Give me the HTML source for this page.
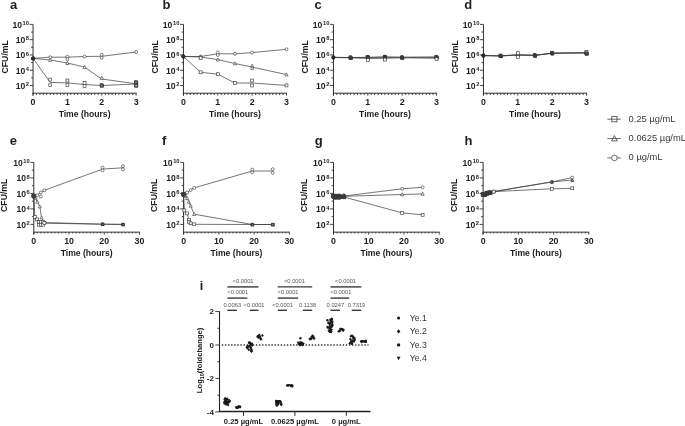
<!DOCTYPE html>
<html><head><meta charset="utf-8"><style>
html,body{margin:0;padding:0;background:#fff;}
svg{display:block;font-family:"Liberation Sans", sans-serif;filter:grayscale(1) blur(0.35px);}
</style></head><body>
<svg width="685" height="426" viewBox="0 0 685 426">
<rect width="685" height="426" fill="#fff"/>
<line x1="33.05" y1="24.40" x2="33.05" y2="95.50" stroke="#303030" stroke-width="1.0" />
<line x1="29.65" y1="85.52" x2="33.05" y2="85.52" stroke="#303030" stroke-width="0.9" />
<line x1="31.15" y1="77.88" x2="33.05" y2="77.88" stroke="#303030" stroke-width="0.9" />
<line x1="29.65" y1="70.24" x2="33.05" y2="70.24" stroke="#303030" stroke-width="0.9" />
<line x1="31.15" y1="62.60" x2="33.05" y2="62.60" stroke="#303030" stroke-width="0.9" />
<line x1="29.65" y1="54.96" x2="33.05" y2="54.96" stroke="#303030" stroke-width="0.9" />
<line x1="31.15" y1="47.32" x2="33.05" y2="47.32" stroke="#303030" stroke-width="0.9" />
<line x1="29.65" y1="39.68" x2="33.05" y2="39.68" stroke="#303030" stroke-width="0.9" />
<line x1="31.15" y1="32.04" x2="33.05" y2="32.04" stroke="#303030" stroke-width="0.9" />
<line x1="29.65" y1="24.40" x2="33.05" y2="24.40" stroke="#303030" stroke-width="0.9" />
<text x="29.05" y="27.70" font-size="8.6" font-weight="bold" text-anchor="end" fill="#1e1e1e">10<tspan font-size="5.8" dx="0.6" dy="-2.7">10</tspan></text>
<text x="29.05" y="42.98" font-size="8.6" font-weight="bold" text-anchor="end" fill="#1e1e1e">10<tspan font-size="5.8" dx="0.6" dy="-2.7">8</tspan></text>
<text x="29.05" y="58.26" font-size="8.6" font-weight="bold" text-anchor="end" fill="#1e1e1e">10<tspan font-size="5.8" dx="0.6" dy="-2.7">6</tspan></text>
<text x="29.05" y="73.54" font-size="8.6" font-weight="bold" text-anchor="end" fill="#1e1e1e">10<tspan font-size="5.8" dx="0.6" dy="-2.7">4</tspan></text>
<text x="29.05" y="88.82" font-size="8.6" font-weight="bold" text-anchor="end" fill="#1e1e1e">10<tspan font-size="5.8" dx="0.6" dy="-2.7">2</tspan></text>
<line x1="32.55" y1="93.20" x2="136.60" y2="93.20" stroke="#303030" stroke-width="1.0" />
<line x1="33.05" y1="93.20" x2="33.05" y2="95.60" stroke="#303030" stroke-width="0.9" />
<text x="33.05" y="104.90" font-size="8.8" font-weight="bold" text-anchor="middle" fill="#1e1e1e" >0</text>
<line x1="36.48" y1="93.20" x2="36.48" y2="95.00" stroke="#303030" stroke-width="0.9" />
<line x1="39.92" y1="93.20" x2="39.92" y2="95.00" stroke="#303030" stroke-width="0.9" />
<line x1="43.35" y1="93.20" x2="43.35" y2="95.00" stroke="#303030" stroke-width="0.9" />
<line x1="46.79" y1="93.20" x2="46.79" y2="95.00" stroke="#303030" stroke-width="0.9" />
<line x1="50.22" y1="93.20" x2="50.22" y2="95.00" stroke="#303030" stroke-width="0.9" />
<line x1="53.66" y1="93.20" x2="53.66" y2="95.00" stroke="#303030" stroke-width="0.9" />
<line x1="57.09" y1="93.20" x2="57.09" y2="95.00" stroke="#303030" stroke-width="0.9" />
<line x1="60.53" y1="93.20" x2="60.53" y2="95.00" stroke="#303030" stroke-width="0.9" />
<line x1="63.97" y1="93.20" x2="63.97" y2="95.00" stroke="#303030" stroke-width="0.9" />
<line x1="67.40" y1="93.20" x2="67.40" y2="95.60" stroke="#303030" stroke-width="0.9" />
<text x="67.40" y="104.90" font-size="8.8" font-weight="bold" text-anchor="middle" fill="#1e1e1e" >1</text>
<line x1="70.84" y1="93.20" x2="70.84" y2="95.00" stroke="#303030" stroke-width="0.9" />
<line x1="74.27" y1="93.20" x2="74.27" y2="95.00" stroke="#303030" stroke-width="0.9" />
<line x1="77.70" y1="93.20" x2="77.70" y2="95.00" stroke="#303030" stroke-width="0.9" />
<line x1="81.14" y1="93.20" x2="81.14" y2="95.00" stroke="#303030" stroke-width="0.9" />
<line x1="84.58" y1="93.20" x2="84.58" y2="95.00" stroke="#303030" stroke-width="0.9" />
<line x1="88.01" y1="93.20" x2="88.01" y2="95.00" stroke="#303030" stroke-width="0.9" />
<line x1="91.45" y1="93.20" x2="91.45" y2="95.00" stroke="#303030" stroke-width="0.9" />
<line x1="94.88" y1="93.20" x2="94.88" y2="95.00" stroke="#303030" stroke-width="0.9" />
<line x1="98.31" y1="93.20" x2="98.31" y2="95.00" stroke="#303030" stroke-width="0.9" />
<line x1="101.75" y1="93.20" x2="101.75" y2="95.60" stroke="#303030" stroke-width="0.9" />
<text x="101.75" y="104.90" font-size="8.8" font-weight="bold" text-anchor="middle" fill="#1e1e1e" >2</text>
<line x1="105.19" y1="93.20" x2="105.19" y2="95.00" stroke="#303030" stroke-width="0.9" />
<line x1="108.62" y1="93.20" x2="108.62" y2="95.00" stroke="#303030" stroke-width="0.9" />
<line x1="112.06" y1="93.20" x2="112.06" y2="95.00" stroke="#303030" stroke-width="0.9" />
<line x1="115.49" y1="93.20" x2="115.49" y2="95.00" stroke="#303030" stroke-width="0.9" />
<line x1="118.92" y1="93.20" x2="118.92" y2="95.00" stroke="#303030" stroke-width="0.9" />
<line x1="122.36" y1="93.20" x2="122.36" y2="95.00" stroke="#303030" stroke-width="0.9" />
<line x1="125.80" y1="93.20" x2="125.80" y2="95.00" stroke="#303030" stroke-width="0.9" />
<line x1="129.23" y1="93.20" x2="129.23" y2="95.00" stroke="#303030" stroke-width="0.9" />
<line x1="132.67" y1="93.20" x2="132.67" y2="95.00" stroke="#303030" stroke-width="0.9" />
<line x1="136.10" y1="93.20" x2="136.10" y2="95.60" stroke="#303030" stroke-width="0.9" />
<text x="136.10" y="104.90" font-size="8.8" font-weight="bold" text-anchor="middle" fill="#1e1e1e" >3</text>
<text x="84.58" y="117.10" font-size="8.6" font-weight="bold" text-anchor="middle" fill="#1e1e1e" >Time (hours)</text>
<text x="0" y="0" font-size="8.7" font-weight="bold" text-anchor="middle" fill="#1e1e1e" transform="translate(7.50,56.80) rotate(-90)">CFU/mL</text>
<text x="10.00" y="9.40" font-size="13" font-weight="bold" text-anchor="start" fill="#1e1e1e" >a</text>
<line x1="183.45" y1="24.40" x2="183.45" y2="95.50" stroke="#303030" stroke-width="1.0" />
<line x1="180.05" y1="85.52" x2="183.45" y2="85.52" stroke="#303030" stroke-width="0.9" />
<line x1="181.55" y1="77.88" x2="183.45" y2="77.88" stroke="#303030" stroke-width="0.9" />
<line x1="180.05" y1="70.24" x2="183.45" y2="70.24" stroke="#303030" stroke-width="0.9" />
<line x1="181.55" y1="62.60" x2="183.45" y2="62.60" stroke="#303030" stroke-width="0.9" />
<line x1="180.05" y1="54.96" x2="183.45" y2="54.96" stroke="#303030" stroke-width="0.9" />
<line x1="181.55" y1="47.32" x2="183.45" y2="47.32" stroke="#303030" stroke-width="0.9" />
<line x1="180.05" y1="39.68" x2="183.45" y2="39.68" stroke="#303030" stroke-width="0.9" />
<line x1="181.55" y1="32.04" x2="183.45" y2="32.04" stroke="#303030" stroke-width="0.9" />
<line x1="180.05" y1="24.40" x2="183.45" y2="24.40" stroke="#303030" stroke-width="0.9" />
<text x="179.45" y="27.70" font-size="8.6" font-weight="bold" text-anchor="end" fill="#1e1e1e">10<tspan font-size="5.8" dx="0.6" dy="-2.7">10</tspan></text>
<text x="179.45" y="42.98" font-size="8.6" font-weight="bold" text-anchor="end" fill="#1e1e1e">10<tspan font-size="5.8" dx="0.6" dy="-2.7">8</tspan></text>
<text x="179.45" y="58.26" font-size="8.6" font-weight="bold" text-anchor="end" fill="#1e1e1e">10<tspan font-size="5.8" dx="0.6" dy="-2.7">6</tspan></text>
<text x="179.45" y="73.54" font-size="8.6" font-weight="bold" text-anchor="end" fill="#1e1e1e">10<tspan font-size="5.8" dx="0.6" dy="-2.7">4</tspan></text>
<text x="179.45" y="88.82" font-size="8.6" font-weight="bold" text-anchor="end" fill="#1e1e1e">10<tspan font-size="5.8" dx="0.6" dy="-2.7">2</tspan></text>
<line x1="182.95" y1="93.20" x2="287.00" y2="93.20" stroke="#303030" stroke-width="1.0" />
<line x1="183.45" y1="93.20" x2="183.45" y2="95.60" stroke="#303030" stroke-width="0.9" />
<text x="183.45" y="104.90" font-size="8.8" font-weight="bold" text-anchor="middle" fill="#1e1e1e" >0</text>
<line x1="186.88" y1="93.20" x2="186.88" y2="95.00" stroke="#303030" stroke-width="0.9" />
<line x1="190.32" y1="93.20" x2="190.32" y2="95.00" stroke="#303030" stroke-width="0.9" />
<line x1="193.75" y1="93.20" x2="193.75" y2="95.00" stroke="#303030" stroke-width="0.9" />
<line x1="197.19" y1="93.20" x2="197.19" y2="95.00" stroke="#303030" stroke-width="0.9" />
<line x1="200.62" y1="93.20" x2="200.62" y2="95.00" stroke="#303030" stroke-width="0.9" />
<line x1="204.06" y1="93.20" x2="204.06" y2="95.00" stroke="#303030" stroke-width="0.9" />
<line x1="207.50" y1="93.20" x2="207.50" y2="95.00" stroke="#303030" stroke-width="0.9" />
<line x1="210.93" y1="93.20" x2="210.93" y2="95.00" stroke="#303030" stroke-width="0.9" />
<line x1="214.36" y1="93.20" x2="214.36" y2="95.00" stroke="#303030" stroke-width="0.9" />
<line x1="217.80" y1="93.20" x2="217.80" y2="95.60" stroke="#303030" stroke-width="0.9" />
<text x="217.80" y="104.90" font-size="8.8" font-weight="bold" text-anchor="middle" fill="#1e1e1e" >1</text>
<line x1="221.23" y1="93.20" x2="221.23" y2="95.00" stroke="#303030" stroke-width="0.9" />
<line x1="224.67" y1="93.20" x2="224.67" y2="95.00" stroke="#303030" stroke-width="0.9" />
<line x1="228.10" y1="93.20" x2="228.10" y2="95.00" stroke="#303030" stroke-width="0.9" />
<line x1="231.54" y1="93.20" x2="231.54" y2="95.00" stroke="#303030" stroke-width="0.9" />
<line x1="234.97" y1="93.20" x2="234.97" y2="95.00" stroke="#303030" stroke-width="0.9" />
<line x1="238.41" y1="93.20" x2="238.41" y2="95.00" stroke="#303030" stroke-width="0.9" />
<line x1="241.84" y1="93.20" x2="241.84" y2="95.00" stroke="#303030" stroke-width="0.9" />
<line x1="245.28" y1="93.20" x2="245.28" y2="95.00" stroke="#303030" stroke-width="0.9" />
<line x1="248.71" y1="93.20" x2="248.71" y2="95.00" stroke="#303030" stroke-width="0.9" />
<line x1="252.15" y1="93.20" x2="252.15" y2="95.60" stroke="#303030" stroke-width="0.9" />
<text x="252.15" y="104.90" font-size="8.8" font-weight="bold" text-anchor="middle" fill="#1e1e1e" >2</text>
<line x1="255.58" y1="93.20" x2="255.58" y2="95.00" stroke="#303030" stroke-width="0.9" />
<line x1="259.02" y1="93.20" x2="259.02" y2="95.00" stroke="#303030" stroke-width="0.9" />
<line x1="262.45" y1="93.20" x2="262.45" y2="95.00" stroke="#303030" stroke-width="0.9" />
<line x1="265.89" y1="93.20" x2="265.89" y2="95.00" stroke="#303030" stroke-width="0.9" />
<line x1="269.32" y1="93.20" x2="269.32" y2="95.00" stroke="#303030" stroke-width="0.9" />
<line x1="272.76" y1="93.20" x2="272.76" y2="95.00" stroke="#303030" stroke-width="0.9" />
<line x1="276.19" y1="93.20" x2="276.19" y2="95.00" stroke="#303030" stroke-width="0.9" />
<line x1="279.63" y1="93.20" x2="279.63" y2="95.00" stroke="#303030" stroke-width="0.9" />
<line x1="283.06" y1="93.20" x2="283.06" y2="95.00" stroke="#303030" stroke-width="0.9" />
<line x1="286.50" y1="93.20" x2="286.50" y2="95.60" stroke="#303030" stroke-width="0.9" />
<text x="286.50" y="104.90" font-size="8.8" font-weight="bold" text-anchor="middle" fill="#1e1e1e" >3</text>
<text x="234.97" y="117.10" font-size="8.6" font-weight="bold" text-anchor="middle" fill="#1e1e1e" >Time (hours)</text>
<text x="0" y="0" font-size="8.7" font-weight="bold" text-anchor="middle" fill="#1e1e1e" transform="translate(157.50,56.80) rotate(-90)">CFU/mL</text>
<text x="162.40" y="9.40" font-size="13" font-weight="bold" text-anchor="start" fill="#1e1e1e" >b</text>
<line x1="333.45" y1="24.40" x2="333.45" y2="95.50" stroke="#303030" stroke-width="1.0" />
<line x1="330.05" y1="85.52" x2="333.45" y2="85.52" stroke="#303030" stroke-width="0.9" />
<line x1="331.55" y1="77.88" x2="333.45" y2="77.88" stroke="#303030" stroke-width="0.9" />
<line x1="330.05" y1="70.24" x2="333.45" y2="70.24" stroke="#303030" stroke-width="0.9" />
<line x1="331.55" y1="62.60" x2="333.45" y2="62.60" stroke="#303030" stroke-width="0.9" />
<line x1="330.05" y1="54.96" x2="333.45" y2="54.96" stroke="#303030" stroke-width="0.9" />
<line x1="331.55" y1="47.32" x2="333.45" y2="47.32" stroke="#303030" stroke-width="0.9" />
<line x1="330.05" y1="39.68" x2="333.45" y2="39.68" stroke="#303030" stroke-width="0.9" />
<line x1="331.55" y1="32.04" x2="333.45" y2="32.04" stroke="#303030" stroke-width="0.9" />
<line x1="330.05" y1="24.40" x2="333.45" y2="24.40" stroke="#303030" stroke-width="0.9" />
<text x="329.45" y="27.70" font-size="8.6" font-weight="bold" text-anchor="end" fill="#1e1e1e">10<tspan font-size="5.8" dx="0.6" dy="-2.7">10</tspan></text>
<text x="329.45" y="42.98" font-size="8.6" font-weight="bold" text-anchor="end" fill="#1e1e1e">10<tspan font-size="5.8" dx="0.6" dy="-2.7">8</tspan></text>
<text x="329.45" y="58.26" font-size="8.6" font-weight="bold" text-anchor="end" fill="#1e1e1e">10<tspan font-size="5.8" dx="0.6" dy="-2.7">6</tspan></text>
<text x="329.45" y="73.54" font-size="8.6" font-weight="bold" text-anchor="end" fill="#1e1e1e">10<tspan font-size="5.8" dx="0.6" dy="-2.7">4</tspan></text>
<text x="329.45" y="88.82" font-size="8.6" font-weight="bold" text-anchor="end" fill="#1e1e1e">10<tspan font-size="5.8" dx="0.6" dy="-2.7">2</tspan></text>
<line x1="332.95" y1="93.20" x2="437.00" y2="93.20" stroke="#303030" stroke-width="1.0" />
<line x1="333.45" y1="93.20" x2="333.45" y2="95.60" stroke="#303030" stroke-width="0.9" />
<text x="333.45" y="104.90" font-size="8.8" font-weight="bold" text-anchor="middle" fill="#1e1e1e" >0</text>
<line x1="336.88" y1="93.20" x2="336.88" y2="95.00" stroke="#303030" stroke-width="0.9" />
<line x1="340.32" y1="93.20" x2="340.32" y2="95.00" stroke="#303030" stroke-width="0.9" />
<line x1="343.75" y1="93.20" x2="343.75" y2="95.00" stroke="#303030" stroke-width="0.9" />
<line x1="347.19" y1="93.20" x2="347.19" y2="95.00" stroke="#303030" stroke-width="0.9" />
<line x1="350.62" y1="93.20" x2="350.62" y2="95.00" stroke="#303030" stroke-width="0.9" />
<line x1="354.06" y1="93.20" x2="354.06" y2="95.00" stroke="#303030" stroke-width="0.9" />
<line x1="357.50" y1="93.20" x2="357.50" y2="95.00" stroke="#303030" stroke-width="0.9" />
<line x1="360.93" y1="93.20" x2="360.93" y2="95.00" stroke="#303030" stroke-width="0.9" />
<line x1="364.37" y1="93.20" x2="364.37" y2="95.00" stroke="#303030" stroke-width="0.9" />
<line x1="367.80" y1="93.20" x2="367.80" y2="95.60" stroke="#303030" stroke-width="0.9" />
<text x="367.80" y="104.90" font-size="8.8" font-weight="bold" text-anchor="middle" fill="#1e1e1e" >1</text>
<line x1="371.24" y1="93.20" x2="371.24" y2="95.00" stroke="#303030" stroke-width="0.9" />
<line x1="374.67" y1="93.20" x2="374.67" y2="95.00" stroke="#303030" stroke-width="0.9" />
<line x1="378.11" y1="93.20" x2="378.11" y2="95.00" stroke="#303030" stroke-width="0.9" />
<line x1="381.54" y1="93.20" x2="381.54" y2="95.00" stroke="#303030" stroke-width="0.9" />
<line x1="384.98" y1="93.20" x2="384.98" y2="95.00" stroke="#303030" stroke-width="0.9" />
<line x1="388.41" y1="93.20" x2="388.41" y2="95.00" stroke="#303030" stroke-width="0.9" />
<line x1="391.85" y1="93.20" x2="391.85" y2="95.00" stroke="#303030" stroke-width="0.9" />
<line x1="395.28" y1="93.20" x2="395.28" y2="95.00" stroke="#303030" stroke-width="0.9" />
<line x1="398.71" y1="93.20" x2="398.71" y2="95.00" stroke="#303030" stroke-width="0.9" />
<line x1="402.15" y1="93.20" x2="402.15" y2="95.60" stroke="#303030" stroke-width="0.9" />
<text x="402.15" y="104.90" font-size="8.8" font-weight="bold" text-anchor="middle" fill="#1e1e1e" >2</text>
<line x1="405.58" y1="93.20" x2="405.58" y2="95.00" stroke="#303030" stroke-width="0.9" />
<line x1="409.02" y1="93.20" x2="409.02" y2="95.00" stroke="#303030" stroke-width="0.9" />
<line x1="412.45" y1="93.20" x2="412.45" y2="95.00" stroke="#303030" stroke-width="0.9" />
<line x1="415.89" y1="93.20" x2="415.89" y2="95.00" stroke="#303030" stroke-width="0.9" />
<line x1="419.32" y1="93.20" x2="419.32" y2="95.00" stroke="#303030" stroke-width="0.9" />
<line x1="422.76" y1="93.20" x2="422.76" y2="95.00" stroke="#303030" stroke-width="0.9" />
<line x1="426.19" y1="93.20" x2="426.19" y2="95.00" stroke="#303030" stroke-width="0.9" />
<line x1="429.63" y1="93.20" x2="429.63" y2="95.00" stroke="#303030" stroke-width="0.9" />
<line x1="433.06" y1="93.20" x2="433.06" y2="95.00" stroke="#303030" stroke-width="0.9" />
<line x1="436.50" y1="93.20" x2="436.50" y2="95.60" stroke="#303030" stroke-width="0.9" />
<text x="436.50" y="104.90" font-size="8.8" font-weight="bold" text-anchor="middle" fill="#1e1e1e" >3</text>
<text x="384.98" y="117.10" font-size="8.6" font-weight="bold" text-anchor="middle" fill="#1e1e1e" >Time (hours)</text>
<text x="0" y="0" font-size="8.7" font-weight="bold" text-anchor="middle" fill="#1e1e1e" transform="translate(307.50,56.80) rotate(-90)">CFU/mL</text>
<text x="314.60" y="9.40" font-size="13" font-weight="bold" text-anchor="start" fill="#1e1e1e" >c</text>
<line x1="483.45" y1="24.40" x2="483.45" y2="95.50" stroke="#303030" stroke-width="1.0" />
<line x1="480.05" y1="85.52" x2="483.45" y2="85.52" stroke="#303030" stroke-width="0.9" />
<line x1="481.55" y1="77.88" x2="483.45" y2="77.88" stroke="#303030" stroke-width="0.9" />
<line x1="480.05" y1="70.24" x2="483.45" y2="70.24" stroke="#303030" stroke-width="0.9" />
<line x1="481.55" y1="62.60" x2="483.45" y2="62.60" stroke="#303030" stroke-width="0.9" />
<line x1="480.05" y1="54.96" x2="483.45" y2="54.96" stroke="#303030" stroke-width="0.9" />
<line x1="481.55" y1="47.32" x2="483.45" y2="47.32" stroke="#303030" stroke-width="0.9" />
<line x1="480.05" y1="39.68" x2="483.45" y2="39.68" stroke="#303030" stroke-width="0.9" />
<line x1="481.55" y1="32.04" x2="483.45" y2="32.04" stroke="#303030" stroke-width="0.9" />
<line x1="480.05" y1="24.40" x2="483.45" y2="24.40" stroke="#303030" stroke-width="0.9" />
<text x="479.45" y="27.70" font-size="8.6" font-weight="bold" text-anchor="end" fill="#1e1e1e">10<tspan font-size="5.8" dx="0.6" dy="-2.7">10</tspan></text>
<text x="479.45" y="42.98" font-size="8.6" font-weight="bold" text-anchor="end" fill="#1e1e1e">10<tspan font-size="5.8" dx="0.6" dy="-2.7">8</tspan></text>
<text x="479.45" y="58.26" font-size="8.6" font-weight="bold" text-anchor="end" fill="#1e1e1e">10<tspan font-size="5.8" dx="0.6" dy="-2.7">6</tspan></text>
<text x="479.45" y="73.54" font-size="8.6" font-weight="bold" text-anchor="end" fill="#1e1e1e">10<tspan font-size="5.8" dx="0.6" dy="-2.7">4</tspan></text>
<text x="479.45" y="88.82" font-size="8.6" font-weight="bold" text-anchor="end" fill="#1e1e1e">10<tspan font-size="5.8" dx="0.6" dy="-2.7">2</tspan></text>
<line x1="482.95" y1="93.20" x2="587.00" y2="93.20" stroke="#303030" stroke-width="1.0" />
<line x1="483.45" y1="93.20" x2="483.45" y2="95.60" stroke="#303030" stroke-width="0.9" />
<text x="483.45" y="104.90" font-size="8.8" font-weight="bold" text-anchor="middle" fill="#1e1e1e" >0</text>
<line x1="486.88" y1="93.20" x2="486.88" y2="95.00" stroke="#303030" stroke-width="0.9" />
<line x1="490.32" y1="93.20" x2="490.32" y2="95.00" stroke="#303030" stroke-width="0.9" />
<line x1="493.75" y1="93.20" x2="493.75" y2="95.00" stroke="#303030" stroke-width="0.9" />
<line x1="497.19" y1="93.20" x2="497.19" y2="95.00" stroke="#303030" stroke-width="0.9" />
<line x1="500.62" y1="93.20" x2="500.62" y2="95.00" stroke="#303030" stroke-width="0.9" />
<line x1="504.06" y1="93.20" x2="504.06" y2="95.00" stroke="#303030" stroke-width="0.9" />
<line x1="507.50" y1="93.20" x2="507.50" y2="95.00" stroke="#303030" stroke-width="0.9" />
<line x1="510.93" y1="93.20" x2="510.93" y2="95.00" stroke="#303030" stroke-width="0.9" />
<line x1="514.37" y1="93.20" x2="514.37" y2="95.00" stroke="#303030" stroke-width="0.9" />
<line x1="517.80" y1="93.20" x2="517.80" y2="95.60" stroke="#303030" stroke-width="0.9" />
<text x="517.80" y="104.90" font-size="8.8" font-weight="bold" text-anchor="middle" fill="#1e1e1e" >1</text>
<line x1="521.24" y1="93.20" x2="521.24" y2="95.00" stroke="#303030" stroke-width="0.9" />
<line x1="524.67" y1="93.20" x2="524.67" y2="95.00" stroke="#303030" stroke-width="0.9" />
<line x1="528.11" y1="93.20" x2="528.11" y2="95.00" stroke="#303030" stroke-width="0.9" />
<line x1="531.54" y1="93.20" x2="531.54" y2="95.00" stroke="#303030" stroke-width="0.9" />
<line x1="534.98" y1="93.20" x2="534.98" y2="95.00" stroke="#303030" stroke-width="0.9" />
<line x1="538.41" y1="93.20" x2="538.41" y2="95.00" stroke="#303030" stroke-width="0.9" />
<line x1="541.85" y1="93.20" x2="541.85" y2="95.00" stroke="#303030" stroke-width="0.9" />
<line x1="545.28" y1="93.20" x2="545.28" y2="95.00" stroke="#303030" stroke-width="0.9" />
<line x1="548.72" y1="93.20" x2="548.72" y2="95.00" stroke="#303030" stroke-width="0.9" />
<line x1="552.15" y1="93.20" x2="552.15" y2="95.60" stroke="#303030" stroke-width="0.9" />
<text x="552.15" y="104.90" font-size="8.8" font-weight="bold" text-anchor="middle" fill="#1e1e1e" >2</text>
<line x1="555.59" y1="93.20" x2="555.59" y2="95.00" stroke="#303030" stroke-width="0.9" />
<line x1="559.02" y1="93.20" x2="559.02" y2="95.00" stroke="#303030" stroke-width="0.9" />
<line x1="562.46" y1="93.20" x2="562.46" y2="95.00" stroke="#303030" stroke-width="0.9" />
<line x1="565.89" y1="93.20" x2="565.89" y2="95.00" stroke="#303030" stroke-width="0.9" />
<line x1="569.33" y1="93.20" x2="569.33" y2="95.00" stroke="#303030" stroke-width="0.9" />
<line x1="572.76" y1="93.20" x2="572.76" y2="95.00" stroke="#303030" stroke-width="0.9" />
<line x1="576.19" y1="93.20" x2="576.19" y2="95.00" stroke="#303030" stroke-width="0.9" />
<line x1="579.63" y1="93.20" x2="579.63" y2="95.00" stroke="#303030" stroke-width="0.9" />
<line x1="583.07" y1="93.20" x2="583.07" y2="95.00" stroke="#303030" stroke-width="0.9" />
<line x1="586.50" y1="93.20" x2="586.50" y2="95.60" stroke="#303030" stroke-width="0.9" />
<text x="586.50" y="104.90" font-size="8.8" font-weight="bold" text-anchor="middle" fill="#1e1e1e" >3</text>
<text x="534.98" y="117.10" font-size="8.6" font-weight="bold" text-anchor="middle" fill="#1e1e1e" >Time (hours)</text>
<text x="0" y="0" font-size="8.7" font-weight="bold" text-anchor="middle" fill="#1e1e1e" transform="translate(457.50,56.80) rotate(-90)">CFU/mL</text>
<text x="464.20" y="9.40" font-size="13" font-weight="bold" text-anchor="start" fill="#1e1e1e" >d</text>
<line x1="33.80" y1="162.40" x2="33.80" y2="234.45" stroke="#303030" stroke-width="1.0" />
<line x1="30.40" y1="224.40" x2="33.80" y2="224.40" stroke="#303030" stroke-width="0.9" />
<line x1="31.90" y1="216.65" x2="33.80" y2="216.65" stroke="#303030" stroke-width="0.9" />
<line x1="30.40" y1="208.90" x2="33.80" y2="208.90" stroke="#303030" stroke-width="0.9" />
<line x1="31.90" y1="201.15" x2="33.80" y2="201.15" stroke="#303030" stroke-width="0.9" />
<line x1="30.40" y1="193.40" x2="33.80" y2="193.40" stroke="#303030" stroke-width="0.9" />
<line x1="31.90" y1="185.65" x2="33.80" y2="185.65" stroke="#303030" stroke-width="0.9" />
<line x1="30.40" y1="177.90" x2="33.80" y2="177.90" stroke="#303030" stroke-width="0.9" />
<line x1="31.90" y1="170.15" x2="33.80" y2="170.15" stroke="#303030" stroke-width="0.9" />
<line x1="30.40" y1="162.40" x2="33.80" y2="162.40" stroke="#303030" stroke-width="0.9" />
<text x="29.80" y="165.70" font-size="8.6" font-weight="bold" text-anchor="end" fill="#1e1e1e">10<tspan font-size="5.8" dx="0.6" dy="-2.7">10</tspan></text>
<text x="29.80" y="181.20" font-size="8.6" font-weight="bold" text-anchor="end" fill="#1e1e1e">10<tspan font-size="5.8" dx="0.6" dy="-2.7">8</tspan></text>
<text x="29.80" y="196.70" font-size="8.6" font-weight="bold" text-anchor="end" fill="#1e1e1e">10<tspan font-size="5.8" dx="0.6" dy="-2.7">6</tspan></text>
<text x="29.80" y="212.20" font-size="8.6" font-weight="bold" text-anchor="end" fill="#1e1e1e">10<tspan font-size="5.8" dx="0.6" dy="-2.7">4</tspan></text>
<text x="29.80" y="227.70" font-size="8.6" font-weight="bold" text-anchor="end" fill="#1e1e1e">10<tspan font-size="5.8" dx="0.6" dy="-2.7">2</tspan></text>
<line x1="33.30" y1="232.15" x2="139.99" y2="232.15" stroke="#303030" stroke-width="1.0" />
<line x1="33.80" y1="232.15" x2="33.80" y2="234.55" stroke="#303030" stroke-width="0.9" />
<text x="33.80" y="243.85" font-size="8.8" font-weight="bold" text-anchor="middle" fill="#1e1e1e" >0</text>
<line x1="37.32" y1="232.15" x2="37.32" y2="233.45" stroke="#303030" stroke-width="0.9" />
<line x1="40.85" y1="232.15" x2="40.85" y2="233.45" stroke="#303030" stroke-width="0.9" />
<line x1="44.37" y1="232.15" x2="44.37" y2="233.45" stroke="#303030" stroke-width="0.9" />
<line x1="47.89" y1="232.15" x2="47.89" y2="233.45" stroke="#303030" stroke-width="0.9" />
<line x1="51.41" y1="232.15" x2="51.41" y2="233.45" stroke="#303030" stroke-width="0.9" />
<line x1="54.94" y1="232.15" x2="54.94" y2="233.45" stroke="#303030" stroke-width="0.9" />
<line x1="58.46" y1="232.15" x2="58.46" y2="233.45" stroke="#303030" stroke-width="0.9" />
<line x1="61.98" y1="232.15" x2="61.98" y2="233.45" stroke="#303030" stroke-width="0.9" />
<line x1="65.51" y1="232.15" x2="65.51" y2="233.45" stroke="#303030" stroke-width="0.9" />
<line x1="69.03" y1="232.15" x2="69.03" y2="234.55" stroke="#303030" stroke-width="0.9" />
<text x="69.03" y="243.85" font-size="8.8" font-weight="bold" text-anchor="middle" fill="#1e1e1e" >10</text>
<line x1="72.55" y1="232.15" x2="72.55" y2="233.45" stroke="#303030" stroke-width="0.9" />
<line x1="76.08" y1="232.15" x2="76.08" y2="233.45" stroke="#303030" stroke-width="0.9" />
<line x1="79.60" y1="232.15" x2="79.60" y2="233.45" stroke="#303030" stroke-width="0.9" />
<line x1="83.12" y1="232.15" x2="83.12" y2="233.45" stroke="#303030" stroke-width="0.9" />
<line x1="86.64" y1="232.15" x2="86.64" y2="233.45" stroke="#303030" stroke-width="0.9" />
<line x1="90.17" y1="232.15" x2="90.17" y2="233.45" stroke="#303030" stroke-width="0.9" />
<line x1="93.69" y1="232.15" x2="93.69" y2="233.45" stroke="#303030" stroke-width="0.9" />
<line x1="97.21" y1="232.15" x2="97.21" y2="233.45" stroke="#303030" stroke-width="0.9" />
<line x1="100.74" y1="232.15" x2="100.74" y2="233.45" stroke="#303030" stroke-width="0.9" />
<line x1="104.26" y1="232.15" x2="104.26" y2="234.55" stroke="#303030" stroke-width="0.9" />
<text x="104.26" y="243.85" font-size="8.8" font-weight="bold" text-anchor="middle" fill="#1e1e1e" >20</text>
<line x1="107.78" y1="232.15" x2="107.78" y2="233.45" stroke="#303030" stroke-width="0.9" />
<line x1="111.31" y1="232.15" x2="111.31" y2="233.45" stroke="#303030" stroke-width="0.9" />
<line x1="114.83" y1="232.15" x2="114.83" y2="233.45" stroke="#303030" stroke-width="0.9" />
<line x1="118.35" y1="232.15" x2="118.35" y2="233.45" stroke="#303030" stroke-width="0.9" />
<line x1="121.88" y1="232.15" x2="121.88" y2="233.45" stroke="#303030" stroke-width="0.9" />
<line x1="125.40" y1="232.15" x2="125.40" y2="233.45" stroke="#303030" stroke-width="0.9" />
<line x1="128.92" y1="232.15" x2="128.92" y2="233.45" stroke="#303030" stroke-width="0.9" />
<line x1="132.44" y1="232.15" x2="132.44" y2="233.45" stroke="#303030" stroke-width="0.9" />
<line x1="135.97" y1="232.15" x2="135.97" y2="233.45" stroke="#303030" stroke-width="0.9" />
<line x1="139.49" y1="232.15" x2="139.49" y2="234.55" stroke="#303030" stroke-width="0.9" />
<text x="139.49" y="243.85" font-size="8.8" font-weight="bold" text-anchor="middle" fill="#1e1e1e" >30</text>
<text x="86.64" y="256.05" font-size="8.6" font-weight="bold" text-anchor="middle" fill="#1e1e1e" >Time (hours)</text>
<text x="0" y="0" font-size="8.7" font-weight="bold" text-anchor="middle" fill="#1e1e1e" transform="translate(7.20,195.28) rotate(-90)">CFU/mL</text>
<text x="9.80" y="144.50" font-size="13" font-weight="bold" text-anchor="start" fill="#1e1e1e" >e</text>
<line x1="183.60" y1="162.40" x2="183.60" y2="234.45" stroke="#303030" stroke-width="1.0" />
<line x1="180.20" y1="224.40" x2="183.60" y2="224.40" stroke="#303030" stroke-width="0.9" />
<line x1="181.70" y1="216.65" x2="183.60" y2="216.65" stroke="#303030" stroke-width="0.9" />
<line x1="180.20" y1="208.90" x2="183.60" y2="208.90" stroke="#303030" stroke-width="0.9" />
<line x1="181.70" y1="201.15" x2="183.60" y2="201.15" stroke="#303030" stroke-width="0.9" />
<line x1="180.20" y1="193.40" x2="183.60" y2="193.40" stroke="#303030" stroke-width="0.9" />
<line x1="181.70" y1="185.65" x2="183.60" y2="185.65" stroke="#303030" stroke-width="0.9" />
<line x1="180.20" y1="177.90" x2="183.60" y2="177.90" stroke="#303030" stroke-width="0.9" />
<line x1="181.70" y1="170.15" x2="183.60" y2="170.15" stroke="#303030" stroke-width="0.9" />
<line x1="180.20" y1="162.40" x2="183.60" y2="162.40" stroke="#303030" stroke-width="0.9" />
<text x="179.60" y="165.70" font-size="8.6" font-weight="bold" text-anchor="end" fill="#1e1e1e">10<tspan font-size="5.8" dx="0.6" dy="-2.7">10</tspan></text>
<text x="179.60" y="181.20" font-size="8.6" font-weight="bold" text-anchor="end" fill="#1e1e1e">10<tspan font-size="5.8" dx="0.6" dy="-2.7">8</tspan></text>
<text x="179.60" y="196.70" font-size="8.6" font-weight="bold" text-anchor="end" fill="#1e1e1e">10<tspan font-size="5.8" dx="0.6" dy="-2.7">6</tspan></text>
<text x="179.60" y="212.20" font-size="8.6" font-weight="bold" text-anchor="end" fill="#1e1e1e">10<tspan font-size="5.8" dx="0.6" dy="-2.7">4</tspan></text>
<text x="179.60" y="227.70" font-size="8.6" font-weight="bold" text-anchor="end" fill="#1e1e1e">10<tspan font-size="5.8" dx="0.6" dy="-2.7">2</tspan></text>
<line x1="183.10" y1="232.15" x2="289.79" y2="232.15" stroke="#303030" stroke-width="1.0" />
<line x1="183.60" y1="232.15" x2="183.60" y2="234.55" stroke="#303030" stroke-width="0.9" />
<text x="183.60" y="243.85" font-size="8.8" font-weight="bold" text-anchor="middle" fill="#1e1e1e" >0</text>
<line x1="187.12" y1="232.15" x2="187.12" y2="233.45" stroke="#303030" stroke-width="0.9" />
<line x1="190.65" y1="232.15" x2="190.65" y2="233.45" stroke="#303030" stroke-width="0.9" />
<line x1="194.17" y1="232.15" x2="194.17" y2="233.45" stroke="#303030" stroke-width="0.9" />
<line x1="197.69" y1="232.15" x2="197.69" y2="233.45" stroke="#303030" stroke-width="0.9" />
<line x1="201.22" y1="232.15" x2="201.22" y2="233.45" stroke="#303030" stroke-width="0.9" />
<line x1="204.74" y1="232.15" x2="204.74" y2="233.45" stroke="#303030" stroke-width="0.9" />
<line x1="208.26" y1="232.15" x2="208.26" y2="233.45" stroke="#303030" stroke-width="0.9" />
<line x1="211.78" y1="232.15" x2="211.78" y2="233.45" stroke="#303030" stroke-width="0.9" />
<line x1="215.31" y1="232.15" x2="215.31" y2="233.45" stroke="#303030" stroke-width="0.9" />
<line x1="218.83" y1="232.15" x2="218.83" y2="234.55" stroke="#303030" stroke-width="0.9" />
<text x="218.83" y="243.85" font-size="8.8" font-weight="bold" text-anchor="middle" fill="#1e1e1e" >10</text>
<line x1="222.35" y1="232.15" x2="222.35" y2="233.45" stroke="#303030" stroke-width="0.9" />
<line x1="225.88" y1="232.15" x2="225.88" y2="233.45" stroke="#303030" stroke-width="0.9" />
<line x1="229.40" y1="232.15" x2="229.40" y2="233.45" stroke="#303030" stroke-width="0.9" />
<line x1="232.92" y1="232.15" x2="232.92" y2="233.45" stroke="#303030" stroke-width="0.9" />
<line x1="236.44" y1="232.15" x2="236.44" y2="233.45" stroke="#303030" stroke-width="0.9" />
<line x1="239.97" y1="232.15" x2="239.97" y2="233.45" stroke="#303030" stroke-width="0.9" />
<line x1="243.49" y1="232.15" x2="243.49" y2="233.45" stroke="#303030" stroke-width="0.9" />
<line x1="247.01" y1="232.15" x2="247.01" y2="233.45" stroke="#303030" stroke-width="0.9" />
<line x1="250.54" y1="232.15" x2="250.54" y2="233.45" stroke="#303030" stroke-width="0.9" />
<line x1="254.06" y1="232.15" x2="254.06" y2="234.55" stroke="#303030" stroke-width="0.9" />
<text x="254.06" y="243.85" font-size="8.8" font-weight="bold" text-anchor="middle" fill="#1e1e1e" >20</text>
<line x1="257.58" y1="232.15" x2="257.58" y2="233.45" stroke="#303030" stroke-width="0.9" />
<line x1="261.11" y1="232.15" x2="261.11" y2="233.45" stroke="#303030" stroke-width="0.9" />
<line x1="264.63" y1="232.15" x2="264.63" y2="233.45" stroke="#303030" stroke-width="0.9" />
<line x1="268.15" y1="232.15" x2="268.15" y2="233.45" stroke="#303030" stroke-width="0.9" />
<line x1="271.68" y1="232.15" x2="271.68" y2="233.45" stroke="#303030" stroke-width="0.9" />
<line x1="275.20" y1="232.15" x2="275.20" y2="233.45" stroke="#303030" stroke-width="0.9" />
<line x1="278.72" y1="232.15" x2="278.72" y2="233.45" stroke="#303030" stroke-width="0.9" />
<line x1="282.24" y1="232.15" x2="282.24" y2="233.45" stroke="#303030" stroke-width="0.9" />
<line x1="285.77" y1="232.15" x2="285.77" y2="233.45" stroke="#303030" stroke-width="0.9" />
<line x1="289.29" y1="232.15" x2="289.29" y2="234.55" stroke="#303030" stroke-width="0.9" />
<text x="289.29" y="243.85" font-size="8.8" font-weight="bold" text-anchor="middle" fill="#1e1e1e" >30</text>
<text x="236.44" y="256.05" font-size="8.6" font-weight="bold" text-anchor="middle" fill="#1e1e1e" >Time (hours)</text>
<text x="0" y="0" font-size="8.7" font-weight="bold" text-anchor="middle" fill="#1e1e1e" transform="translate(157.20,195.28) rotate(-90)">CFU/mL</text>
<text x="162.00" y="144.50" font-size="13" font-weight="bold" text-anchor="start" fill="#1e1e1e" >f</text>
<line x1="333.50" y1="162.40" x2="333.50" y2="234.45" stroke="#303030" stroke-width="1.0" />
<line x1="330.10" y1="224.40" x2="333.50" y2="224.40" stroke="#303030" stroke-width="0.9" />
<line x1="331.60" y1="216.65" x2="333.50" y2="216.65" stroke="#303030" stroke-width="0.9" />
<line x1="330.10" y1="208.90" x2="333.50" y2="208.90" stroke="#303030" stroke-width="0.9" />
<line x1="331.60" y1="201.15" x2="333.50" y2="201.15" stroke="#303030" stroke-width="0.9" />
<line x1="330.10" y1="193.40" x2="333.50" y2="193.40" stroke="#303030" stroke-width="0.9" />
<line x1="331.60" y1="185.65" x2="333.50" y2="185.65" stroke="#303030" stroke-width="0.9" />
<line x1="330.10" y1="177.90" x2="333.50" y2="177.90" stroke="#303030" stroke-width="0.9" />
<line x1="331.60" y1="170.15" x2="333.50" y2="170.15" stroke="#303030" stroke-width="0.9" />
<line x1="330.10" y1="162.40" x2="333.50" y2="162.40" stroke="#303030" stroke-width="0.9" />
<text x="329.50" y="165.70" font-size="8.6" font-weight="bold" text-anchor="end" fill="#1e1e1e">10<tspan font-size="5.8" dx="0.6" dy="-2.7">10</tspan></text>
<text x="329.50" y="181.20" font-size="8.6" font-weight="bold" text-anchor="end" fill="#1e1e1e">10<tspan font-size="5.8" dx="0.6" dy="-2.7">8</tspan></text>
<text x="329.50" y="196.70" font-size="8.6" font-weight="bold" text-anchor="end" fill="#1e1e1e">10<tspan font-size="5.8" dx="0.6" dy="-2.7">6</tspan></text>
<text x="329.50" y="212.20" font-size="8.6" font-weight="bold" text-anchor="end" fill="#1e1e1e">10<tspan font-size="5.8" dx="0.6" dy="-2.7">4</tspan></text>
<text x="329.50" y="227.70" font-size="8.6" font-weight="bold" text-anchor="end" fill="#1e1e1e">10<tspan font-size="5.8" dx="0.6" dy="-2.7">2</tspan></text>
<line x1="333.00" y1="232.15" x2="439.69" y2="232.15" stroke="#303030" stroke-width="1.0" />
<line x1="333.50" y1="232.15" x2="333.50" y2="234.55" stroke="#303030" stroke-width="0.9" />
<text x="333.50" y="243.85" font-size="8.8" font-weight="bold" text-anchor="middle" fill="#1e1e1e" >0</text>
<line x1="337.02" y1="232.15" x2="337.02" y2="233.45" stroke="#303030" stroke-width="0.9" />
<line x1="340.55" y1="232.15" x2="340.55" y2="233.45" stroke="#303030" stroke-width="0.9" />
<line x1="344.07" y1="232.15" x2="344.07" y2="233.45" stroke="#303030" stroke-width="0.9" />
<line x1="347.59" y1="232.15" x2="347.59" y2="233.45" stroke="#303030" stroke-width="0.9" />
<line x1="351.12" y1="232.15" x2="351.12" y2="233.45" stroke="#303030" stroke-width="0.9" />
<line x1="354.64" y1="232.15" x2="354.64" y2="233.45" stroke="#303030" stroke-width="0.9" />
<line x1="358.16" y1="232.15" x2="358.16" y2="233.45" stroke="#303030" stroke-width="0.9" />
<line x1="361.68" y1="232.15" x2="361.68" y2="233.45" stroke="#303030" stroke-width="0.9" />
<line x1="365.21" y1="232.15" x2="365.21" y2="233.45" stroke="#303030" stroke-width="0.9" />
<line x1="368.73" y1="232.15" x2="368.73" y2="234.55" stroke="#303030" stroke-width="0.9" />
<text x="368.73" y="243.85" font-size="8.8" font-weight="bold" text-anchor="middle" fill="#1e1e1e" >10</text>
<line x1="372.25" y1="232.15" x2="372.25" y2="233.45" stroke="#303030" stroke-width="0.9" />
<line x1="375.78" y1="232.15" x2="375.78" y2="233.45" stroke="#303030" stroke-width="0.9" />
<line x1="379.30" y1="232.15" x2="379.30" y2="233.45" stroke="#303030" stroke-width="0.9" />
<line x1="382.82" y1="232.15" x2="382.82" y2="233.45" stroke="#303030" stroke-width="0.9" />
<line x1="386.35" y1="232.15" x2="386.35" y2="233.45" stroke="#303030" stroke-width="0.9" />
<line x1="389.87" y1="232.15" x2="389.87" y2="233.45" stroke="#303030" stroke-width="0.9" />
<line x1="393.39" y1="232.15" x2="393.39" y2="233.45" stroke="#303030" stroke-width="0.9" />
<line x1="396.91" y1="232.15" x2="396.91" y2="233.45" stroke="#303030" stroke-width="0.9" />
<line x1="400.44" y1="232.15" x2="400.44" y2="233.45" stroke="#303030" stroke-width="0.9" />
<line x1="403.96" y1="232.15" x2="403.96" y2="234.55" stroke="#303030" stroke-width="0.9" />
<text x="403.96" y="243.85" font-size="8.8" font-weight="bold" text-anchor="middle" fill="#1e1e1e" >20</text>
<line x1="407.48" y1="232.15" x2="407.48" y2="233.45" stroke="#303030" stroke-width="0.9" />
<line x1="411.01" y1="232.15" x2="411.01" y2="233.45" stroke="#303030" stroke-width="0.9" />
<line x1="414.53" y1="232.15" x2="414.53" y2="233.45" stroke="#303030" stroke-width="0.9" />
<line x1="418.05" y1="232.15" x2="418.05" y2="233.45" stroke="#303030" stroke-width="0.9" />
<line x1="421.57" y1="232.15" x2="421.57" y2="233.45" stroke="#303030" stroke-width="0.9" />
<line x1="425.10" y1="232.15" x2="425.10" y2="233.45" stroke="#303030" stroke-width="0.9" />
<line x1="428.62" y1="232.15" x2="428.62" y2="233.45" stroke="#303030" stroke-width="0.9" />
<line x1="432.14" y1="232.15" x2="432.14" y2="233.45" stroke="#303030" stroke-width="0.9" />
<line x1="435.67" y1="232.15" x2="435.67" y2="233.45" stroke="#303030" stroke-width="0.9" />
<line x1="439.19" y1="232.15" x2="439.19" y2="234.55" stroke="#303030" stroke-width="0.9" />
<text x="439.19" y="243.85" font-size="8.8" font-weight="bold" text-anchor="middle" fill="#1e1e1e" >30</text>
<text x="386.35" y="256.05" font-size="8.6" font-weight="bold" text-anchor="middle" fill="#1e1e1e" >Time (hours)</text>
<text x="0" y="0" font-size="8.7" font-weight="bold" text-anchor="middle" fill="#1e1e1e" transform="translate(307.20,195.28) rotate(-90)">CFU/mL</text>
<text x="314.80" y="144.50" font-size="13" font-weight="bold" text-anchor="start" fill="#1e1e1e" >g</text>
<line x1="483.10" y1="162.40" x2="483.10" y2="234.45" stroke="#303030" stroke-width="1.0" />
<line x1="479.70" y1="224.40" x2="483.10" y2="224.40" stroke="#303030" stroke-width="0.9" />
<line x1="481.20" y1="216.65" x2="483.10" y2="216.65" stroke="#303030" stroke-width="0.9" />
<line x1="479.70" y1="208.90" x2="483.10" y2="208.90" stroke="#303030" stroke-width="0.9" />
<line x1="481.20" y1="201.15" x2="483.10" y2="201.15" stroke="#303030" stroke-width="0.9" />
<line x1="479.70" y1="193.40" x2="483.10" y2="193.40" stroke="#303030" stroke-width="0.9" />
<line x1="481.20" y1="185.65" x2="483.10" y2="185.65" stroke="#303030" stroke-width="0.9" />
<line x1="479.70" y1="177.90" x2="483.10" y2="177.90" stroke="#303030" stroke-width="0.9" />
<line x1="481.20" y1="170.15" x2="483.10" y2="170.15" stroke="#303030" stroke-width="0.9" />
<line x1="479.70" y1="162.40" x2="483.10" y2="162.40" stroke="#303030" stroke-width="0.9" />
<text x="479.10" y="165.70" font-size="8.6" font-weight="bold" text-anchor="end" fill="#1e1e1e">10<tspan font-size="5.8" dx="0.6" dy="-2.7">10</tspan></text>
<text x="479.10" y="181.20" font-size="8.6" font-weight="bold" text-anchor="end" fill="#1e1e1e">10<tspan font-size="5.8" dx="0.6" dy="-2.7">8</tspan></text>
<text x="479.10" y="196.70" font-size="8.6" font-weight="bold" text-anchor="end" fill="#1e1e1e">10<tspan font-size="5.8" dx="0.6" dy="-2.7">6</tspan></text>
<text x="479.10" y="212.20" font-size="8.6" font-weight="bold" text-anchor="end" fill="#1e1e1e">10<tspan font-size="5.8" dx="0.6" dy="-2.7">4</tspan></text>
<text x="479.10" y="227.70" font-size="8.6" font-weight="bold" text-anchor="end" fill="#1e1e1e">10<tspan font-size="5.8" dx="0.6" dy="-2.7">2</tspan></text>
<line x1="482.60" y1="232.15" x2="589.29" y2="232.15" stroke="#303030" stroke-width="1.0" />
<line x1="483.10" y1="232.15" x2="483.10" y2="234.55" stroke="#303030" stroke-width="0.9" />
<text x="483.10" y="243.85" font-size="8.8" font-weight="bold" text-anchor="middle" fill="#1e1e1e" >0</text>
<line x1="486.62" y1="232.15" x2="486.62" y2="233.45" stroke="#303030" stroke-width="0.9" />
<line x1="490.15" y1="232.15" x2="490.15" y2="233.45" stroke="#303030" stroke-width="0.9" />
<line x1="493.67" y1="232.15" x2="493.67" y2="233.45" stroke="#303030" stroke-width="0.9" />
<line x1="497.19" y1="232.15" x2="497.19" y2="233.45" stroke="#303030" stroke-width="0.9" />
<line x1="500.72" y1="232.15" x2="500.72" y2="233.45" stroke="#303030" stroke-width="0.9" />
<line x1="504.24" y1="232.15" x2="504.24" y2="233.45" stroke="#303030" stroke-width="0.9" />
<line x1="507.76" y1="232.15" x2="507.76" y2="233.45" stroke="#303030" stroke-width="0.9" />
<line x1="511.28" y1="232.15" x2="511.28" y2="233.45" stroke="#303030" stroke-width="0.9" />
<line x1="514.81" y1="232.15" x2="514.81" y2="233.45" stroke="#303030" stroke-width="0.9" />
<line x1="518.33" y1="232.15" x2="518.33" y2="234.55" stroke="#303030" stroke-width="0.9" />
<text x="518.33" y="243.85" font-size="8.8" font-weight="bold" text-anchor="middle" fill="#1e1e1e" >10</text>
<line x1="521.85" y1="232.15" x2="521.85" y2="233.45" stroke="#303030" stroke-width="0.9" />
<line x1="525.38" y1="232.15" x2="525.38" y2="233.45" stroke="#303030" stroke-width="0.9" />
<line x1="528.90" y1="232.15" x2="528.90" y2="233.45" stroke="#303030" stroke-width="0.9" />
<line x1="532.42" y1="232.15" x2="532.42" y2="233.45" stroke="#303030" stroke-width="0.9" />
<line x1="535.95" y1="232.15" x2="535.95" y2="233.45" stroke="#303030" stroke-width="0.9" />
<line x1="539.47" y1="232.15" x2="539.47" y2="233.45" stroke="#303030" stroke-width="0.9" />
<line x1="542.99" y1="232.15" x2="542.99" y2="233.45" stroke="#303030" stroke-width="0.9" />
<line x1="546.51" y1="232.15" x2="546.51" y2="233.45" stroke="#303030" stroke-width="0.9" />
<line x1="550.04" y1="232.15" x2="550.04" y2="233.45" stroke="#303030" stroke-width="0.9" />
<line x1="553.56" y1="232.15" x2="553.56" y2="234.55" stroke="#303030" stroke-width="0.9" />
<text x="553.56" y="243.85" font-size="8.8" font-weight="bold" text-anchor="middle" fill="#1e1e1e" >20</text>
<line x1="557.08" y1="232.15" x2="557.08" y2="233.45" stroke="#303030" stroke-width="0.9" />
<line x1="560.61" y1="232.15" x2="560.61" y2="233.45" stroke="#303030" stroke-width="0.9" />
<line x1="564.13" y1="232.15" x2="564.13" y2="233.45" stroke="#303030" stroke-width="0.9" />
<line x1="567.65" y1="232.15" x2="567.65" y2="233.45" stroke="#303030" stroke-width="0.9" />
<line x1="571.18" y1="232.15" x2="571.18" y2="233.45" stroke="#303030" stroke-width="0.9" />
<line x1="574.70" y1="232.15" x2="574.70" y2="233.45" stroke="#303030" stroke-width="0.9" />
<line x1="578.22" y1="232.15" x2="578.22" y2="233.45" stroke="#303030" stroke-width="0.9" />
<line x1="581.74" y1="232.15" x2="581.74" y2="233.45" stroke="#303030" stroke-width="0.9" />
<line x1="585.27" y1="232.15" x2="585.27" y2="233.45" stroke="#303030" stroke-width="0.9" />
<line x1="588.79" y1="232.15" x2="588.79" y2="234.55" stroke="#303030" stroke-width="0.9" />
<text x="588.79" y="243.85" font-size="8.8" font-weight="bold" text-anchor="middle" fill="#1e1e1e" >30</text>
<text x="535.95" y="256.05" font-size="8.6" font-weight="bold" text-anchor="middle" fill="#1e1e1e" >Time (hours)</text>
<text x="0" y="0" font-size="8.7" font-weight="bold" text-anchor="middle" fill="#1e1e1e" transform="translate(457.20,195.28) rotate(-90)">CFU/mL</text>
<text x="464.50" y="144.50" font-size="13" font-weight="bold" text-anchor="start" fill="#1e1e1e" >h</text>
<polyline points="33.05,58.40 50.22,57.20 67.40,57.20 84.58,56.50 101.75,56.30 136.10,52.00" fill="none" stroke="#3a3a3a" stroke-width="0.7"/>
<circle cx="33.05" cy="58.40" r="1.9" fill="#2a2a2a"/>
<circle cx="50.22" cy="57.20" r="1.45" fill="#fff" stroke="#3a3a3a" stroke-width="0.65"/>
<circle cx="67.40" cy="56.80" r="1.45" fill="#fff" stroke="#3a3a3a" stroke-width="0.65"/>
<circle cx="67.40" cy="59.30" r="1.45" fill="#fff" stroke="#3a3a3a" stroke-width="0.65"/>
<circle cx="84.58" cy="56.50" r="1.45" fill="#fff" stroke="#3a3a3a" stroke-width="0.65"/>
<circle cx="101.75" cy="54.80" r="1.45" fill="#fff" stroke="#3a3a3a" stroke-width="0.65"/>
<circle cx="101.75" cy="57.80" r="1.45" fill="#fff" stroke="#3a3a3a" stroke-width="0.65"/>
<circle cx="136.10" cy="52.00" r="1.45" fill="#fff" stroke="#3a3a3a" stroke-width="0.65"/>
<polyline points="33.05,58.40 50.22,60.00 67.40,63.00 84.58,67.10 101.75,79.00 136.10,83.80" fill="none" stroke="#3a3a3a" stroke-width="0.7"/>
<circle cx="33.05" cy="58.40" r="1.9" fill="#2a2a2a"/>
<polygon points="50.22,58.33 51.82,61.33 48.63,61.33" fill="#fff" stroke="#3a3a3a" stroke-width="0.65"/>
<polygon points="67.40,61.53 69.00,64.53 65.81,64.53" fill="#fff" stroke="#3a3a3a" stroke-width="0.65"/>
<polygon points="84.58,65.43 86.17,68.43 82.98,68.43" fill="#fff" stroke="#3a3a3a" stroke-width="0.65"/>
<polygon points="101.75,76.33 103.34,79.33 100.16,79.33" fill="#fff" stroke="#3a3a3a" stroke-width="0.65"/>
<polygon points="136.10,81.83 137.70,84.83 134.51,84.83" fill="#fff" stroke="#3a3a3a" stroke-width="0.65"/>
<polyline points="33.05,58.40 50.22,82.40 67.40,82.90 84.58,84.50 101.75,85.50 136.10,84.00" fill="none" stroke="#3a3a3a" stroke-width="0.7"/>
<circle cx="33.05" cy="58.40" r="1.9" fill="#2a2a2a"/>
<rect x="48.77" y="78.15" width="2.90" height="2.90" fill="#fff" stroke="#3a3a3a" stroke-width="0.65"/>
<rect x="48.77" y="83.75" width="2.90" height="2.90" fill="#fff" stroke="#3a3a3a" stroke-width="0.65"/>
<rect x="65.95" y="79.05" width="2.90" height="2.90" fill="#fff" stroke="#3a3a3a" stroke-width="0.65"/>
<rect x="65.95" y="83.75" width="2.90" height="2.90" fill="#fff" stroke="#3a3a3a" stroke-width="0.65"/>
<rect x="83.12" y="81.55" width="2.90" height="2.90" fill="#fff" stroke="#3a3a3a" stroke-width="0.65"/>
<rect x="83.12" y="84.55" width="2.90" height="2.90" fill="#fff" stroke="#3a3a3a" stroke-width="0.65"/>
<rect x="100.05" y="83.70" width="2.80" height="2.80" fill="none" stroke="#3a3a3a" stroke-width="0.65"/>
<rect x="100.65" y="84.50" width="2.80" height="2.80" fill="none" stroke="#3a3a3a" stroke-width="0.65"/>
<rect x="100.35" y="84.10" width="2.80" height="2.80" fill="none" stroke="#3a3a3a" stroke-width="0.65"/>
<rect x="134.40" y="80.70" width="2.80" height="2.80" fill="none" stroke="#3a3a3a" stroke-width="0.65"/>
<rect x="135.00" y="81.50" width="2.80" height="2.80" fill="none" stroke="#3a3a3a" stroke-width="0.65"/>
<rect x="134.70" y="81.10" width="2.80" height="2.80" fill="none" stroke="#3a3a3a" stroke-width="0.65"/>
<rect x="134.40" y="83.70" width="2.80" height="2.80" fill="none" stroke="#3a3a3a" stroke-width="0.65"/>
<rect x="135.00" y="84.50" width="2.80" height="2.80" fill="none" stroke="#3a3a3a" stroke-width="0.65"/>
<rect x="134.70" y="84.10" width="2.80" height="2.80" fill="none" stroke="#3a3a3a" stroke-width="0.65"/>
<polyline points="183.45,56.50 200.62,56.50 217.80,53.80 234.97,53.80 252.15,52.60 286.50,49.30" fill="none" stroke="#3a3a3a" stroke-width="0.7"/>
<circle cx="183.45" cy="56.50" r="1.9" fill="#2a2a2a"/>
<circle cx="200.62" cy="56.50" r="1.45" fill="#fff" stroke="#3a3a3a" stroke-width="0.65"/>
<circle cx="217.80" cy="52.50" r="1.45" fill="#fff" stroke="#3a3a3a" stroke-width="0.65"/>
<circle cx="217.80" cy="55.00" r="1.45" fill="#fff" stroke="#3a3a3a" stroke-width="0.65"/>
<circle cx="234.97" cy="53.80" r="1.45" fill="#fff" stroke="#3a3a3a" stroke-width="0.65"/>
<circle cx="252.15" cy="52.60" r="1.45" fill="#fff" stroke="#3a3a3a" stroke-width="0.65"/>
<circle cx="286.50" cy="49.30" r="1.45" fill="#fff" stroke="#3a3a3a" stroke-width="0.65"/>
<polyline points="183.45,56.50 200.62,57.00 217.80,59.60 234.97,63.50 252.15,67.10 286.50,74.60" fill="none" stroke="#3a3a3a" stroke-width="0.7"/>
<circle cx="183.45" cy="56.50" r="1.9" fill="#2a2a2a"/>
<polygon points="200.62,55.33 202.22,58.33 199.03,58.33" fill="#fff" stroke="#3a3a3a" stroke-width="0.65"/>
<polygon points="217.80,57.93 219.39,60.93 216.20,60.93" fill="#fff" stroke="#3a3a3a" stroke-width="0.65"/>
<polygon points="234.97,61.83 236.57,64.83 233.38,64.83" fill="#fff" stroke="#3a3a3a" stroke-width="0.65"/>
<polygon points="252.15,64.13 253.74,67.13 250.55,67.13" fill="#fff" stroke="#3a3a3a" stroke-width="0.65"/>
<polygon points="252.15,66.33 253.74,69.33 250.55,69.33" fill="#fff" stroke="#3a3a3a" stroke-width="0.65"/>
<polygon points="286.50,72.93 288.10,75.93 284.90,75.93" fill="#fff" stroke="#3a3a3a" stroke-width="0.65"/>
<polyline points="183.45,56.50 200.62,72.30 217.80,74.20 234.97,83.00 252.15,83.00 286.50,85.40" fill="none" stroke="#3a3a3a" stroke-width="0.7"/>
<circle cx="183.45" cy="56.50" r="1.9" fill="#2a2a2a"/>
<rect x="199.18" y="56.55" width="2.90" height="2.90" fill="#fff" stroke="#3a3a3a" stroke-width="0.65"/>
<rect x="199.18" y="70.85" width="2.90" height="2.90" fill="#fff" stroke="#3a3a3a" stroke-width="0.65"/>
<rect x="216.35" y="72.75" width="2.90" height="2.90" fill="#fff" stroke="#3a3a3a" stroke-width="0.65"/>
<rect x="233.53" y="81.55" width="2.90" height="2.90" fill="#fff" stroke="#3a3a3a" stroke-width="0.65"/>
<rect x="250.70" y="79.05" width="2.90" height="2.90" fill="#fff" stroke="#3a3a3a" stroke-width="0.65"/>
<rect x="250.70" y="84.05" width="2.90" height="2.90" fill="#fff" stroke="#3a3a3a" stroke-width="0.65"/>
<rect x="285.05" y="83.95" width="2.90" height="2.90" fill="#fff" stroke="#3a3a3a" stroke-width="0.65"/>
<polyline points="333.45,57.30 350.62,57.50 367.80,57.30 384.98,56.80 402.15,57.30 436.50,57.00" fill="none" stroke="#3a3a3a" stroke-width="0.7"/>
<circle cx="333.45" cy="57.30" r="1.9" fill="#2a2a2a"/>
<circle cx="350.32" cy="57.10" r="1.40" fill="none" stroke="#3a3a3a" stroke-width="0.65"/>
<circle cx="350.93" cy="57.90" r="1.40" fill="none" stroke="#3a3a3a" stroke-width="0.65"/>
<circle cx="350.62" cy="57.50" r="1.40" fill="none" stroke="#3a3a3a" stroke-width="0.65"/>
<circle cx="367.50" cy="56.90" r="1.40" fill="none" stroke="#3a3a3a" stroke-width="0.65"/>
<circle cx="368.10" cy="57.70" r="1.40" fill="none" stroke="#3a3a3a" stroke-width="0.65"/>
<circle cx="367.80" cy="57.30" r="1.40" fill="none" stroke="#3a3a3a" stroke-width="0.65"/>
<circle cx="384.68" cy="56.40" r="1.40" fill="none" stroke="#3a3a3a" stroke-width="0.65"/>
<circle cx="385.28" cy="57.20" r="1.40" fill="none" stroke="#3a3a3a" stroke-width="0.65"/>
<circle cx="384.98" cy="56.80" r="1.40" fill="none" stroke="#3a3a3a" stroke-width="0.65"/>
<circle cx="401.85" cy="56.90" r="1.40" fill="none" stroke="#3a3a3a" stroke-width="0.65"/>
<circle cx="402.45" cy="57.70" r="1.40" fill="none" stroke="#3a3a3a" stroke-width="0.65"/>
<circle cx="402.15" cy="57.30" r="1.40" fill="none" stroke="#3a3a3a" stroke-width="0.65"/>
<circle cx="436.20" cy="56.60" r="1.40" fill="none" stroke="#3a3a3a" stroke-width="0.65"/>
<circle cx="436.80" cy="57.40" r="1.40" fill="none" stroke="#3a3a3a" stroke-width="0.65"/>
<circle cx="436.50" cy="57.00" r="1.40" fill="none" stroke="#3a3a3a" stroke-width="0.65"/>
<polyline points="333.45,57.50 350.62,57.50 367.80,57.50 384.98,57.30 402.15,57.30 436.50,57.30" fill="none" stroke="#3a3a3a" stroke-width="0.7"/>
<circle cx="333.45" cy="57.50" r="1.9" fill="#2a2a2a"/>
<polygon points="350.32,55.49 351.87,58.39 348.78,58.39" fill="none" stroke="#3a3a3a" stroke-width="0.65"/>
<polygon points="350.93,56.29 352.47,59.19 349.38,59.19" fill="none" stroke="#3a3a3a" stroke-width="0.65"/>
<polygon points="350.62,55.89 352.17,58.79 349.08,58.79" fill="none" stroke="#3a3a3a" stroke-width="0.65"/>
<polygon points="367.50,55.49 369.04,58.39 365.96,58.39" fill="none" stroke="#3a3a3a" stroke-width="0.65"/>
<polygon points="368.10,56.29 369.64,59.19 366.56,59.19" fill="none" stroke="#3a3a3a" stroke-width="0.65"/>
<polygon points="367.80,55.89 369.34,58.79 366.26,58.79" fill="none" stroke="#3a3a3a" stroke-width="0.65"/>
<polygon points="384.68,55.29 386.22,58.19 383.13,58.19" fill="none" stroke="#3a3a3a" stroke-width="0.65"/>
<polygon points="385.28,56.09 386.82,58.99 383.74,58.99" fill="none" stroke="#3a3a3a" stroke-width="0.65"/>
<polygon points="384.98,55.69 386.52,58.59 383.44,58.59" fill="none" stroke="#3a3a3a" stroke-width="0.65"/>
<polygon points="401.85,55.29 403.39,58.19 400.31,58.19" fill="none" stroke="#3a3a3a" stroke-width="0.65"/>
<polygon points="402.45,56.09 403.99,58.99 400.91,58.99" fill="none" stroke="#3a3a3a" stroke-width="0.65"/>
<polygon points="402.15,55.69 403.69,58.59 400.61,58.59" fill="none" stroke="#3a3a3a" stroke-width="0.65"/>
<polygon points="436.20,55.29 437.74,58.19 434.66,58.19" fill="none" stroke="#3a3a3a" stroke-width="0.65"/>
<polygon points="436.80,56.09 438.34,58.99 435.26,58.99" fill="none" stroke="#3a3a3a" stroke-width="0.65"/>
<polygon points="436.50,55.69 438.04,58.59 434.96,58.59" fill="none" stroke="#3a3a3a" stroke-width="0.65"/>
<polyline points="333.45,57.50 350.62,57.80 367.80,58.50 384.98,58.30 402.15,57.80 436.50,58.30" fill="none" stroke="#3a3a3a" stroke-width="0.7"/>
<circle cx="333.45" cy="57.50" r="1.9" fill="#2a2a2a"/>
<rect x="348.93" y="56.00" width="2.80" height="2.80" fill="none" stroke="#3a3a3a" stroke-width="0.65"/>
<rect x="349.53" y="56.80" width="2.80" height="2.80" fill="none" stroke="#3a3a3a" stroke-width="0.65"/>
<rect x="349.23" y="56.40" width="2.80" height="2.80" fill="none" stroke="#3a3a3a" stroke-width="0.65"/>
<rect x="366.10" y="55.40" width="2.80" height="2.80" fill="none" stroke="#3a3a3a" stroke-width="0.65"/>
<rect x="366.70" y="56.20" width="2.80" height="2.80" fill="none" stroke="#3a3a3a" stroke-width="0.65"/>
<rect x="366.40" y="55.80" width="2.80" height="2.80" fill="none" stroke="#3a3a3a" stroke-width="0.65"/>
<rect x="366.35" y="58.55" width="2.90" height="2.90" fill="#fff" stroke="#3a3a3a" stroke-width="0.65"/>
<rect x="383.28" y="55.40" width="2.80" height="2.80" fill="none" stroke="#3a3a3a" stroke-width="0.65"/>
<rect x="383.88" y="56.20" width="2.80" height="2.80" fill="none" stroke="#3a3a3a" stroke-width="0.65"/>
<rect x="383.58" y="55.80" width="2.80" height="2.80" fill="none" stroke="#3a3a3a" stroke-width="0.65"/>
<rect x="383.53" y="58.15" width="2.90" height="2.90" fill="#fff" stroke="#3a3a3a" stroke-width="0.65"/>
<rect x="400.45" y="56.00" width="2.80" height="2.80" fill="none" stroke="#3a3a3a" stroke-width="0.65"/>
<rect x="401.05" y="56.80" width="2.80" height="2.80" fill="none" stroke="#3a3a3a" stroke-width="0.65"/>
<rect x="400.75" y="56.40" width="2.80" height="2.80" fill="none" stroke="#3a3a3a" stroke-width="0.65"/>
<rect x="434.80" y="55.60" width="2.80" height="2.80" fill="none" stroke="#3a3a3a" stroke-width="0.65"/>
<rect x="435.40" y="56.40" width="2.80" height="2.80" fill="none" stroke="#3a3a3a" stroke-width="0.65"/>
<rect x="435.10" y="56.00" width="2.80" height="2.80" fill="none" stroke="#3a3a3a" stroke-width="0.65"/>
<rect x="435.05" y="57.55" width="2.90" height="2.90" fill="#fff" stroke="#3a3a3a" stroke-width="0.65"/>
<polyline points="483.45,55.50 500.62,55.90 517.80,54.70 534.98,55.20 552.15,53.10 586.50,52.80" fill="none" stroke="#3a3a3a" stroke-width="0.7"/>
<circle cx="483.45" cy="55.50" r="1.9" fill="#2a2a2a"/>
<circle cx="500.32" cy="55.50" r="1.40" fill="none" stroke="#3a3a3a" stroke-width="0.65"/>
<circle cx="500.93" cy="56.30" r="1.40" fill="none" stroke="#3a3a3a" stroke-width="0.65"/>
<circle cx="500.62" cy="55.90" r="1.40" fill="none" stroke="#3a3a3a" stroke-width="0.65"/>
<circle cx="517.50" cy="54.30" r="1.40" fill="none" stroke="#3a3a3a" stroke-width="0.65"/>
<circle cx="518.10" cy="55.10" r="1.40" fill="none" stroke="#3a3a3a" stroke-width="0.65"/>
<circle cx="517.80" cy="54.70" r="1.40" fill="none" stroke="#3a3a3a" stroke-width="0.65"/>
<circle cx="534.68" cy="54.80" r="1.40" fill="none" stroke="#3a3a3a" stroke-width="0.65"/>
<circle cx="535.27" cy="55.60" r="1.40" fill="none" stroke="#3a3a3a" stroke-width="0.65"/>
<circle cx="534.98" cy="55.20" r="1.40" fill="none" stroke="#3a3a3a" stroke-width="0.65"/>
<circle cx="551.85" cy="52.70" r="1.40" fill="none" stroke="#3a3a3a" stroke-width="0.65"/>
<circle cx="552.45" cy="53.50" r="1.40" fill="none" stroke="#3a3a3a" stroke-width="0.65"/>
<circle cx="552.15" cy="53.10" r="1.40" fill="none" stroke="#3a3a3a" stroke-width="0.65"/>
<circle cx="586.20" cy="52.40" r="1.40" fill="none" stroke="#3a3a3a" stroke-width="0.65"/>
<circle cx="586.80" cy="53.20" r="1.40" fill="none" stroke="#3a3a3a" stroke-width="0.65"/>
<circle cx="586.50" cy="52.80" r="1.40" fill="none" stroke="#3a3a3a" stroke-width="0.65"/>
<polyline points="483.45,55.70 500.62,55.90 517.80,54.90 534.98,55.40 552.15,53.30 586.50,53.00" fill="none" stroke="#3a3a3a" stroke-width="0.7"/>
<circle cx="483.45" cy="55.70" r="1.9" fill="#2a2a2a"/>
<polygon points="500.32,53.89 501.87,56.79 498.78,56.79" fill="none" stroke="#3a3a3a" stroke-width="0.65"/>
<polygon points="500.93,54.69 502.47,57.59 499.38,57.59" fill="none" stroke="#3a3a3a" stroke-width="0.65"/>
<polygon points="500.62,54.29 502.17,57.19 499.08,57.19" fill="none" stroke="#3a3a3a" stroke-width="0.65"/>
<polygon points="517.50,52.89 519.04,55.79 515.96,55.79" fill="none" stroke="#3a3a3a" stroke-width="0.65"/>
<polygon points="518.10,53.69 519.64,56.59 516.56,56.59" fill="none" stroke="#3a3a3a" stroke-width="0.65"/>
<polygon points="517.80,53.29 519.34,56.19 516.26,56.19" fill="none" stroke="#3a3a3a" stroke-width="0.65"/>
<polygon points="534.68,53.39 536.22,56.29 533.14,56.29" fill="none" stroke="#3a3a3a" stroke-width="0.65"/>
<polygon points="535.27,54.19 536.81,57.09 533.74,57.09" fill="none" stroke="#3a3a3a" stroke-width="0.65"/>
<polygon points="534.98,53.79 536.51,56.69 533.44,56.69" fill="none" stroke="#3a3a3a" stroke-width="0.65"/>
<polygon points="551.85,51.29 553.39,54.19 550.31,54.19" fill="none" stroke="#3a3a3a" stroke-width="0.65"/>
<polygon points="552.45,52.09 553.99,54.99 550.91,54.99" fill="none" stroke="#3a3a3a" stroke-width="0.65"/>
<polygon points="552.15,51.69 553.69,54.59 550.61,54.59" fill="none" stroke="#3a3a3a" stroke-width="0.65"/>
<polygon points="586.20,50.99 587.74,53.89 584.66,53.89" fill="none" stroke="#3a3a3a" stroke-width="0.65"/>
<polygon points="586.80,51.79 588.34,54.69 585.26,54.69" fill="none" stroke="#3a3a3a" stroke-width="0.65"/>
<polygon points="586.50,51.39 588.04,54.29 584.96,54.29" fill="none" stroke="#3a3a3a" stroke-width="0.65"/>
<polyline points="483.45,55.50 500.62,55.90 517.80,55.20 534.98,55.50 552.15,53.10 586.50,52.60" fill="none" stroke="#3a3a3a" stroke-width="0.7"/>
<circle cx="483.45" cy="55.50" r="1.9" fill="#2a2a2a"/>
<rect x="498.93" y="54.10" width="2.80" height="2.80" fill="none" stroke="#3a3a3a" stroke-width="0.65"/>
<rect x="499.53" y="54.90" width="2.80" height="2.80" fill="none" stroke="#3a3a3a" stroke-width="0.65"/>
<rect x="499.23" y="54.50" width="2.80" height="2.80" fill="none" stroke="#3a3a3a" stroke-width="0.65"/>
<rect x="516.35" y="51.75" width="2.90" height="2.90" fill="#fff" stroke="#3a3a3a" stroke-width="0.65"/>
<rect x="516.35" y="55.55" width="2.90" height="2.90" fill="#fff" stroke="#3a3a3a" stroke-width="0.65"/>
<rect x="533.28" y="53.70" width="2.80" height="2.80" fill="none" stroke="#3a3a3a" stroke-width="0.65"/>
<rect x="533.88" y="54.50" width="2.80" height="2.80" fill="none" stroke="#3a3a3a" stroke-width="0.65"/>
<rect x="533.58" y="54.10" width="2.80" height="2.80" fill="none" stroke="#3a3a3a" stroke-width="0.65"/>
<rect x="550.45" y="51.30" width="2.80" height="2.80" fill="none" stroke="#3a3a3a" stroke-width="0.65"/>
<rect x="551.05" y="52.10" width="2.80" height="2.80" fill="none" stroke="#3a3a3a" stroke-width="0.65"/>
<rect x="550.75" y="51.70" width="2.80" height="2.80" fill="none" stroke="#3a3a3a" stroke-width="0.65"/>
<rect x="585.05" y="50.35" width="2.90" height="2.90" fill="#fff" stroke="#3a3a3a" stroke-width="0.65"/>
<rect x="584.80" y="51.80" width="2.80" height="2.80" fill="none" stroke="#3a3a3a" stroke-width="0.65"/>
<rect x="585.40" y="52.60" width="2.80" height="2.80" fill="none" stroke="#3a3a3a" stroke-width="0.65"/>
<rect x="585.10" y="52.20" width="2.80" height="2.80" fill="none" stroke="#3a3a3a" stroke-width="0.65"/>
<polyline points="33.80,196.00 37.32,195.30 40.85,192.40 44.37,190.30 102.50,169.10 122.93,167.80" fill="none" stroke="#3a3a3a" stroke-width="0.7"/>
<circle cx="33.50" cy="195.60" r="1.60" fill="none" stroke="#3a3a3a" stroke-width="0.65"/>
<circle cx="34.10" cy="196.40" r="1.60" fill="none" stroke="#3a3a3a" stroke-width="0.65"/>
<circle cx="33.80" cy="196.00" r="1.60" fill="none" stroke="#3a3a3a" stroke-width="0.65"/>
<circle cx="37.32" cy="195.30" r="1.45" fill="#fff" stroke="#3a3a3a" stroke-width="0.65"/>
<circle cx="40.85" cy="192.40" r="1.45" fill="#fff" stroke="#3a3a3a" stroke-width="0.65"/>
<circle cx="40.85" cy="196.50" r="1.45" fill="#fff" stroke="#3a3a3a" stroke-width="0.65"/>
<circle cx="44.37" cy="190.30" r="1.45" fill="#fff" stroke="#3a3a3a" stroke-width="0.65"/>
<circle cx="102.50" cy="167.60" r="1.45" fill="#fff" stroke="#3a3a3a" stroke-width="0.65"/>
<circle cx="102.50" cy="170.50" r="1.45" fill="#fff" stroke="#3a3a3a" stroke-width="0.65"/>
<circle cx="122.93" cy="166.20" r="1.45" fill="#fff" stroke="#3a3a3a" stroke-width="0.65"/>
<circle cx="122.93" cy="169.40" r="1.45" fill="#fff" stroke="#3a3a3a" stroke-width="0.65"/>
<polyline points="33.80,196.00 37.32,201.80 39.79,206.50 41.55,217.60 44.37,222.50 102.50,224.20 122.93,224.40" fill="none" stroke="#3a3a3a" stroke-width="0.7"/>
<polygon points="33.50,193.76 35.26,197.07 31.74,197.07" fill="none" stroke="#3a3a3a" stroke-width="0.65"/>
<polygon points="34.10,194.56 35.86,197.87 32.34,197.87" fill="none" stroke="#3a3a3a" stroke-width="0.65"/>
<polygon points="33.80,194.16 35.56,197.47 32.04,197.47" fill="none" stroke="#3a3a3a" stroke-width="0.65"/>
<polygon points="35.56,196.33 37.16,199.33 33.97,199.33" fill="#fff" stroke="#3a3a3a" stroke-width="0.65"/>
<polygon points="37.32,200.13 38.92,203.13 35.73,203.13" fill="#fff" stroke="#3a3a3a" stroke-width="0.65"/>
<polygon points="39.79,204.83 41.38,207.83 38.19,207.83" fill="#fff" stroke="#3a3a3a" stroke-width="0.65"/>
<polygon points="41.55,215.93 43.15,218.93 39.96,218.93" fill="#fff" stroke="#3a3a3a" stroke-width="0.65"/>
<polygon points="44.37,220.83 45.96,223.83 42.77,223.83" fill="#fff" stroke="#3a3a3a" stroke-width="0.65"/>
<polygon points="102.50,222.76 103.87,225.35 101.12,225.35" fill="none" stroke="#3a3a3a" stroke-width="0.65"/>
<polygon points="102.75,222.96 104.12,225.55 101.37,225.55" fill="none" stroke="#3a3a3a" stroke-width="0.65"/>
<polygon points="122.93,222.96 124.31,225.55 121.56,225.55" fill="none" stroke="#3a3a3a" stroke-width="0.65"/>
<polygon points="123.18,223.16 124.56,225.75 121.81,225.75" fill="none" stroke="#3a3a3a" stroke-width="0.65"/>
<polyline points="33.80,196.00 34.86,217.00 36.97,219.40 39.08,222.00 40.85,223.00 44.37,223.20 102.50,224.20 122.93,224.40" fill="none" stroke="#3a3a3a" stroke-width="0.7"/>
<rect x="31.90" y="194.00" width="3.20" height="3.20" fill="none" stroke="#3a3a3a" stroke-width="0.65"/>
<rect x="32.50" y="194.80" width="3.20" height="3.20" fill="none" stroke="#3a3a3a" stroke-width="0.65"/>
<rect x="32.20" y="194.40" width="3.20" height="3.20" fill="none" stroke="#3a3a3a" stroke-width="0.65"/>
<rect x="33.41" y="215.55" width="2.90" height="2.90" fill="#fff" stroke="#3a3a3a" stroke-width="0.65"/>
<rect x="35.52" y="217.95" width="2.90" height="2.90" fill="#fff" stroke="#3a3a3a" stroke-width="0.65"/>
<rect x="37.63" y="220.35" width="2.90" height="2.90" fill="#fff" stroke="#3a3a3a" stroke-width="0.65"/>
<rect x="37.63" y="223.25" width="2.90" height="2.90" fill="#fff" stroke="#3a3a3a" stroke-width="0.65"/>
<rect x="39.40" y="220.35" width="2.90" height="2.90" fill="#fff" stroke="#3a3a3a" stroke-width="0.65"/>
<rect x="39.40" y="223.25" width="2.90" height="2.90" fill="#fff" stroke="#3a3a3a" stroke-width="0.65"/>
<rect x="41.51" y="220.35" width="2.90" height="2.90" fill="#fff" stroke="#3a3a3a" stroke-width="0.65"/>
<rect x="41.51" y="223.25" width="2.90" height="2.90" fill="#fff" stroke="#3a3a3a" stroke-width="0.65"/>
<rect x="42.92" y="221.55" width="2.90" height="2.90" fill="#fff" stroke="#3a3a3a" stroke-width="0.65"/>
<rect x="101.25" y="222.95" width="2.50" height="2.50" fill="none" stroke="#3a3a3a" stroke-width="0.65"/>
<rect x="101.50" y="223.15" width="2.50" height="2.50" fill="none" stroke="#3a3a3a" stroke-width="0.65"/>
<rect x="121.68" y="223.15" width="2.50" height="2.50" fill="none" stroke="#3a3a3a" stroke-width="0.65"/>
<rect x="121.93" y="223.35" width="2.50" height="2.50" fill="none" stroke="#3a3a3a" stroke-width="0.65"/>
<polyline points="183.60,194.40 185.36,193.50 187.12,192.50 190.65,190.00 194.17,187.90 252.30,171.00 272.73,171.00" fill="none" stroke="#3a3a3a" stroke-width="0.7"/>
<circle cx="183.30" cy="194.00" r="1.60" fill="none" stroke="#3a3a3a" stroke-width="0.65"/>
<circle cx="183.90" cy="194.80" r="1.60" fill="none" stroke="#3a3a3a" stroke-width="0.65"/>
<circle cx="183.60" cy="194.40" r="1.60" fill="none" stroke="#3a3a3a" stroke-width="0.65"/>
<circle cx="185.36" cy="193.50" r="1.45" fill="#fff" stroke="#3a3a3a" stroke-width="0.65"/>
<circle cx="187.12" cy="192.50" r="1.45" fill="#fff" stroke="#3a3a3a" stroke-width="0.65"/>
<circle cx="190.65" cy="190.00" r="1.45" fill="#fff" stroke="#3a3a3a" stroke-width="0.65"/>
<circle cx="194.17" cy="187.90" r="1.45" fill="#fff" stroke="#3a3a3a" stroke-width="0.65"/>
<circle cx="252.30" cy="169.60" r="1.45" fill="#fff" stroke="#3a3a3a" stroke-width="0.65"/>
<circle cx="252.30" cy="172.40" r="1.45" fill="#fff" stroke="#3a3a3a" stroke-width="0.65"/>
<circle cx="272.73" cy="169.20" r="1.45" fill="#fff" stroke="#3a3a3a" stroke-width="0.65"/>
<circle cx="272.73" cy="172.80" r="1.45" fill="#fff" stroke="#3a3a3a" stroke-width="0.65"/>
<polyline points="183.60,194.40 185.36,196.00 187.12,198.20 188.88,202.00 190.65,205.80 194.17,214.20 252.30,224.50 272.73,224.50" fill="none" stroke="#3a3a3a" stroke-width="0.7"/>
<polygon points="183.30,192.16 185.06,195.47 181.54,195.47" fill="none" stroke="#3a3a3a" stroke-width="0.65"/>
<polygon points="183.90,192.96 185.66,196.27 182.14,196.27" fill="none" stroke="#3a3a3a" stroke-width="0.65"/>
<polygon points="183.60,192.56 185.36,195.87 181.84,195.87" fill="none" stroke="#3a3a3a" stroke-width="0.65"/>
<polygon points="185.36,194.33 186.96,197.33 183.77,197.33" fill="#fff" stroke="#3a3a3a" stroke-width="0.65"/>
<polygon points="187.12,196.53 188.72,199.53 185.53,199.53" fill="#fff" stroke="#3a3a3a" stroke-width="0.65"/>
<polygon points="188.88,200.33 190.48,203.33 187.29,203.33" fill="#fff" stroke="#3a3a3a" stroke-width="0.65"/>
<polygon points="190.65,204.13 192.24,207.13 189.05,207.13" fill="#fff" stroke="#3a3a3a" stroke-width="0.65"/>
<polygon points="194.17,212.53 195.76,215.53 192.57,215.53" fill="#fff" stroke="#3a3a3a" stroke-width="0.65"/>
<polygon points="252.30,222.83 253.89,225.83 250.70,225.83" fill="#fff" stroke="#3a3a3a" stroke-width="0.65"/>
<polygon points="272.73,222.83 274.33,225.83 271.14,225.83" fill="#fff" stroke="#3a3a3a" stroke-width="0.65"/>
<polyline points="183.60,194.40 184.30,210.40 187.12,213.40 188.88,219.80 190.65,223.30 194.17,224.30 252.30,224.50 272.73,224.50" fill="none" stroke="#3a3a3a" stroke-width="0.7"/>
<rect x="181.70" y="192.40" width="3.20" height="3.20" fill="none" stroke="#3a3a3a" stroke-width="0.65"/>
<rect x="182.30" y="193.20" width="3.20" height="3.20" fill="none" stroke="#3a3a3a" stroke-width="0.65"/>
<rect x="182.00" y="192.80" width="3.20" height="3.20" fill="none" stroke="#3a3a3a" stroke-width="0.65"/>
<rect x="182.85" y="208.95" width="2.90" height="2.90" fill="#fff" stroke="#3a3a3a" stroke-width="0.65"/>
<rect x="185.67" y="211.95" width="2.90" height="2.90" fill="#fff" stroke="#3a3a3a" stroke-width="0.65"/>
<rect x="187.43" y="218.35" width="2.90" height="2.90" fill="#fff" stroke="#3a3a3a" stroke-width="0.65"/>
<rect x="187.43" y="220.35" width="2.90" height="2.90" fill="#fff" stroke="#3a3a3a" stroke-width="0.65"/>
<rect x="189.20" y="221.85" width="2.90" height="2.90" fill="#fff" stroke="#3a3a3a" stroke-width="0.65"/>
<rect x="192.72" y="222.85" width="2.90" height="2.90" fill="#fff" stroke="#3a3a3a" stroke-width="0.65"/>
<rect x="251.05" y="223.25" width="2.50" height="2.50" fill="none" stroke="#3a3a3a" stroke-width="0.65"/>
<rect x="251.30" y="223.45" width="2.50" height="2.50" fill="none" stroke="#3a3a3a" stroke-width="0.65"/>
<rect x="271.48" y="223.25" width="2.50" height="2.50" fill="none" stroke="#3a3a3a" stroke-width="0.65"/>
<rect x="271.73" y="223.45" width="2.50" height="2.50" fill="none" stroke="#3a3a3a" stroke-width="0.65"/>
<polyline points="333.50,196.30 337.02,196.00 340.55,196.00 344.07,196.00 402.20,188.80 422.63,187.30" fill="none" stroke="#3a3a3a" stroke-width="0.7"/>
<circle cx="333.20" cy="195.90" r="1.60" fill="none" stroke="#3a3a3a" stroke-width="0.65"/>
<circle cx="333.80" cy="196.70" r="1.60" fill="none" stroke="#3a3a3a" stroke-width="0.65"/>
<circle cx="333.50" cy="196.30" r="1.60" fill="none" stroke="#3a3a3a" stroke-width="0.65"/>
<circle cx="334.96" cy="195.40" r="1.40" fill="none" stroke="#3a3a3a" stroke-width="0.65"/>
<circle cx="335.56" cy="196.20" r="1.40" fill="none" stroke="#3a3a3a" stroke-width="0.65"/>
<circle cx="335.26" cy="195.80" r="1.40" fill="none" stroke="#3a3a3a" stroke-width="0.65"/>
<circle cx="336.72" cy="195.60" r="1.40" fill="none" stroke="#3a3a3a" stroke-width="0.65"/>
<circle cx="337.32" cy="196.40" r="1.40" fill="none" stroke="#3a3a3a" stroke-width="0.65"/>
<circle cx="337.02" cy="196.00" r="1.40" fill="none" stroke="#3a3a3a" stroke-width="0.65"/>
<circle cx="338.48" cy="195.20" r="1.40" fill="none" stroke="#3a3a3a" stroke-width="0.65"/>
<circle cx="339.08" cy="196.00" r="1.40" fill="none" stroke="#3a3a3a" stroke-width="0.65"/>
<circle cx="338.78" cy="195.60" r="1.40" fill="none" stroke="#3a3a3a" stroke-width="0.65"/>
<circle cx="340.25" cy="195.60" r="1.40" fill="none" stroke="#3a3a3a" stroke-width="0.65"/>
<circle cx="340.85" cy="196.40" r="1.40" fill="none" stroke="#3a3a3a" stroke-width="0.65"/>
<circle cx="340.55" cy="196.00" r="1.40" fill="none" stroke="#3a3a3a" stroke-width="0.65"/>
<circle cx="343.77" cy="195.20" r="1.40" fill="none" stroke="#3a3a3a" stroke-width="0.65"/>
<circle cx="344.37" cy="196.00" r="1.40" fill="none" stroke="#3a3a3a" stroke-width="0.65"/>
<circle cx="344.07" cy="195.60" r="1.40" fill="none" stroke="#3a3a3a" stroke-width="0.65"/>
<circle cx="402.20" cy="188.80" r="1.45" fill="#fff" stroke="#3a3a3a" stroke-width="0.65"/>
<circle cx="422.63" cy="187.30" r="1.45" fill="#fff" stroke="#3a3a3a" stroke-width="0.65"/>
<polyline points="333.50,196.30 337.02,196.30 340.55,196.30 344.07,196.30 402.20,194.50 422.63,193.90" fill="none" stroke="#3a3a3a" stroke-width="0.7"/>
<polygon points="333.20,194.06 334.96,197.37 331.44,197.37" fill="none" stroke="#3a3a3a" stroke-width="0.65"/>
<polygon points="333.80,194.86 335.56,198.17 332.04,198.17" fill="none" stroke="#3a3a3a" stroke-width="0.65"/>
<polygon points="333.50,194.46 335.26,197.77 331.74,197.77" fill="none" stroke="#3a3a3a" stroke-width="0.65"/>
<polygon points="334.96,194.59 336.50,197.49 333.42,197.49" fill="none" stroke="#3a3a3a" stroke-width="0.65"/>
<polygon points="335.56,195.39 337.10,198.29 334.02,198.29" fill="none" stroke="#3a3a3a" stroke-width="0.65"/>
<polygon points="335.26,194.99 336.80,197.89 333.72,197.89" fill="none" stroke="#3a3a3a" stroke-width="0.65"/>
<polygon points="336.72,194.29 338.26,197.19 335.18,197.19" fill="none" stroke="#3a3a3a" stroke-width="0.65"/>
<polygon points="337.32,195.09 338.86,197.99 335.78,197.99" fill="none" stroke="#3a3a3a" stroke-width="0.65"/>
<polygon points="337.02,194.69 338.56,197.59 335.48,197.59" fill="none" stroke="#3a3a3a" stroke-width="0.65"/>
<polygon points="340.25,194.29 341.79,197.19 338.71,197.19" fill="none" stroke="#3a3a3a" stroke-width="0.65"/>
<polygon points="340.85,195.09 342.39,197.99 339.31,197.99" fill="none" stroke="#3a3a3a" stroke-width="0.65"/>
<polygon points="340.55,194.69 342.09,197.59 339.01,197.59" fill="none" stroke="#3a3a3a" stroke-width="0.65"/>
<polygon points="343.77,194.29 345.31,197.19 342.23,197.19" fill="none" stroke="#3a3a3a" stroke-width="0.65"/>
<polygon points="344.37,195.09 345.91,197.99 342.83,197.99" fill="none" stroke="#3a3a3a" stroke-width="0.65"/>
<polygon points="344.07,194.69 345.61,197.59 342.53,197.59" fill="none" stroke="#3a3a3a" stroke-width="0.65"/>
<polygon points="402.20,192.83 403.79,195.83 400.60,195.83" fill="#fff" stroke="#3a3a3a" stroke-width="0.65"/>
<polygon points="422.63,192.23 424.23,195.23 421.04,195.23" fill="#fff" stroke="#3a3a3a" stroke-width="0.65"/>
<polyline points="333.50,196.30 337.02,196.80 340.55,196.80 344.07,197.00 402.20,212.90 422.63,214.80" fill="none" stroke="#3a3a3a" stroke-width="0.7"/>
<rect x="331.60" y="194.30" width="3.20" height="3.20" fill="none" stroke="#3a3a3a" stroke-width="0.65"/>
<rect x="332.20" y="195.10" width="3.20" height="3.20" fill="none" stroke="#3a3a3a" stroke-width="0.65"/>
<rect x="331.90" y="194.70" width="3.20" height="3.20" fill="none" stroke="#3a3a3a" stroke-width="0.65"/>
<rect x="333.56" y="195.70" width="2.80" height="2.80" fill="none" stroke="#3a3a3a" stroke-width="0.65"/>
<rect x="334.16" y="196.50" width="2.80" height="2.80" fill="none" stroke="#3a3a3a" stroke-width="0.65"/>
<rect x="333.86" y="196.10" width="2.80" height="2.80" fill="none" stroke="#3a3a3a" stroke-width="0.65"/>
<rect x="335.32" y="195.00" width="2.80" height="2.80" fill="none" stroke="#3a3a3a" stroke-width="0.65"/>
<rect x="335.92" y="195.80" width="2.80" height="2.80" fill="none" stroke="#3a3a3a" stroke-width="0.65"/>
<rect x="335.62" y="195.40" width="2.80" height="2.80" fill="none" stroke="#3a3a3a" stroke-width="0.65"/>
<rect x="337.08" y="195.70" width="2.80" height="2.80" fill="none" stroke="#3a3a3a" stroke-width="0.65"/>
<rect x="337.68" y="196.50" width="2.80" height="2.80" fill="none" stroke="#3a3a3a" stroke-width="0.65"/>
<rect x="337.38" y="196.10" width="2.80" height="2.80" fill="none" stroke="#3a3a3a" stroke-width="0.65"/>
<rect x="338.85" y="195.00" width="2.80" height="2.80" fill="none" stroke="#3a3a3a" stroke-width="0.65"/>
<rect x="339.45" y="195.80" width="2.80" height="2.80" fill="none" stroke="#3a3a3a" stroke-width="0.65"/>
<rect x="339.15" y="195.40" width="2.80" height="2.80" fill="none" stroke="#3a3a3a" stroke-width="0.65"/>
<rect x="342.37" y="195.20" width="2.80" height="2.80" fill="none" stroke="#3a3a3a" stroke-width="0.65"/>
<rect x="342.97" y="196.00" width="2.80" height="2.80" fill="none" stroke="#3a3a3a" stroke-width="0.65"/>
<rect x="342.67" y="195.60" width="2.80" height="2.80" fill="none" stroke="#3a3a3a" stroke-width="0.65"/>
<rect x="400.75" y="211.45" width="2.90" height="2.90" fill="#fff" stroke="#3a3a3a" stroke-width="0.65"/>
<rect x="421.18" y="213.35" width="2.90" height="2.90" fill="#fff" stroke="#3a3a3a" stroke-width="0.65"/>
<polyline points="483.10,194.50 486.62,193.50 490.15,192.50 493.67,191.60 551.80,181.90 572.23,177.60" fill="none" stroke="#3a3a3a" stroke-width="0.7"/>
<circle cx="482.80" cy="194.10" r="1.60" fill="none" stroke="#3a3a3a" stroke-width="0.65"/>
<circle cx="483.40" cy="194.90" r="1.60" fill="none" stroke="#3a3a3a" stroke-width="0.65"/>
<circle cx="483.10" cy="194.50" r="1.60" fill="none" stroke="#3a3a3a" stroke-width="0.65"/>
<circle cx="484.56" cy="194.20" r="1.40" fill="none" stroke="#3a3a3a" stroke-width="0.65"/>
<circle cx="485.16" cy="195.00" r="1.40" fill="none" stroke="#3a3a3a" stroke-width="0.65"/>
<circle cx="484.86" cy="194.60" r="1.40" fill="none" stroke="#3a3a3a" stroke-width="0.65"/>
<circle cx="486.32" cy="193.10" r="1.40" fill="none" stroke="#3a3a3a" stroke-width="0.65"/>
<circle cx="486.92" cy="193.90" r="1.40" fill="none" stroke="#3a3a3a" stroke-width="0.65"/>
<circle cx="486.62" cy="193.50" r="1.40" fill="none" stroke="#3a3a3a" stroke-width="0.65"/>
<circle cx="488.08" cy="192.80" r="1.40" fill="none" stroke="#3a3a3a" stroke-width="0.65"/>
<circle cx="488.68" cy="193.60" r="1.40" fill="none" stroke="#3a3a3a" stroke-width="0.65"/>
<circle cx="488.38" cy="193.20" r="1.40" fill="none" stroke="#3a3a3a" stroke-width="0.65"/>
<circle cx="489.85" cy="192.10" r="1.40" fill="none" stroke="#3a3a3a" stroke-width="0.65"/>
<circle cx="490.45" cy="192.90" r="1.40" fill="none" stroke="#3a3a3a" stroke-width="0.65"/>
<circle cx="490.15" cy="192.50" r="1.40" fill="none" stroke="#3a3a3a" stroke-width="0.65"/>
<circle cx="493.67" cy="191.60" r="1.45" fill="#fff" stroke="#3a3a3a" stroke-width="0.65"/>
<circle cx="551.80" cy="181.90" r="1.45" fill="#fff" stroke="#3a3a3a" stroke-width="0.65"/>
<circle cx="572.23" cy="177.60" r="1.45" fill="#fff" stroke="#3a3a3a" stroke-width="0.65"/>
<polyline points="483.10,194.50 486.62,193.50 490.15,192.50 493.67,191.60 551.80,181.90 572.23,180.00" fill="none" stroke="#3a3a3a" stroke-width="0.7"/>
<polygon points="482.80,192.26 484.56,195.57 481.04,195.57" fill="none" stroke="#3a3a3a" stroke-width="0.65"/>
<polygon points="483.40,193.06 485.16,196.37 481.64,196.37" fill="none" stroke="#3a3a3a" stroke-width="0.65"/>
<polygon points="483.10,192.66 484.86,195.97 481.34,195.97" fill="none" stroke="#3a3a3a" stroke-width="0.65"/>
<polygon points="484.56,192.79 486.10,195.69 483.02,195.69" fill="none" stroke="#3a3a3a" stroke-width="0.65"/>
<polygon points="485.16,193.59 486.70,196.49 483.62,196.49" fill="none" stroke="#3a3a3a" stroke-width="0.65"/>
<polygon points="484.86,193.19 486.40,196.09 483.32,196.09" fill="none" stroke="#3a3a3a" stroke-width="0.65"/>
<polygon points="486.32,191.79 487.86,194.69 484.78,194.69" fill="none" stroke="#3a3a3a" stroke-width="0.65"/>
<polygon points="486.92,192.59 488.46,195.49 485.38,195.49" fill="none" stroke="#3a3a3a" stroke-width="0.65"/>
<polygon points="486.62,192.19 488.16,195.09 485.08,195.09" fill="none" stroke="#3a3a3a" stroke-width="0.65"/>
<polygon points="489.85,190.79 491.39,193.69 488.31,193.69" fill="none" stroke="#3a3a3a" stroke-width="0.65"/>
<polygon points="490.45,191.59 491.99,194.49 488.91,194.49" fill="none" stroke="#3a3a3a" stroke-width="0.65"/>
<polygon points="490.15,191.19 491.69,194.09 488.61,194.09" fill="none" stroke="#3a3a3a" stroke-width="0.65"/>
<polygon points="493.67,189.93 495.26,192.93 492.07,192.93" fill="#fff" stroke="#3a3a3a" stroke-width="0.65"/>
<polygon points="551.80,180.46 553.17,183.05 550.42,183.05" fill="none" stroke="#3a3a3a" stroke-width="0.65"/>
<polygon points="552.05,180.66 553.42,183.25 550.67,183.25" fill="none" stroke="#3a3a3a" stroke-width="0.65"/>
<polygon points="572.23,178.76 573.61,181.35 570.86,181.35" fill="none" stroke="#3a3a3a" stroke-width="0.65"/>
<polygon points="572.48,178.96 573.86,181.55 571.11,181.55" fill="none" stroke="#3a3a3a" stroke-width="0.65"/>
<polyline points="483.10,194.50 486.62,193.50 490.15,192.50 493.67,191.60 551.80,188.80 572.23,188.30" fill="none" stroke="#3a3a3a" stroke-width="0.7"/>
<rect x="481.20" y="192.50" width="3.20" height="3.20" fill="none" stroke="#3a3a3a" stroke-width="0.65"/>
<rect x="481.80" y="193.30" width="3.20" height="3.20" fill="none" stroke="#3a3a3a" stroke-width="0.65"/>
<rect x="481.50" y="192.90" width="3.20" height="3.20" fill="none" stroke="#3a3a3a" stroke-width="0.65"/>
<rect x="483.16" y="193.00" width="2.80" height="2.80" fill="none" stroke="#3a3a3a" stroke-width="0.65"/>
<rect x="483.76" y="193.80" width="2.80" height="2.80" fill="none" stroke="#3a3a3a" stroke-width="0.65"/>
<rect x="483.46" y="193.40" width="2.80" height="2.80" fill="none" stroke="#3a3a3a" stroke-width="0.65"/>
<rect x="484.92" y="191.20" width="2.80" height="2.80" fill="none" stroke="#3a3a3a" stroke-width="0.65"/>
<rect x="485.52" y="192.00" width="2.80" height="2.80" fill="none" stroke="#3a3a3a" stroke-width="0.65"/>
<rect x="485.22" y="191.60" width="2.80" height="2.80" fill="none" stroke="#3a3a3a" stroke-width="0.65"/>
<rect x="486.68" y="191.00" width="2.80" height="2.80" fill="none" stroke="#3a3a3a" stroke-width="0.65"/>
<rect x="487.28" y="191.80" width="2.80" height="2.80" fill="none" stroke="#3a3a3a" stroke-width="0.65"/>
<rect x="486.98" y="191.40" width="2.80" height="2.80" fill="none" stroke="#3a3a3a" stroke-width="0.65"/>
<rect x="488.45" y="190.70" width="2.80" height="2.80" fill="none" stroke="#3a3a3a" stroke-width="0.65"/>
<rect x="489.05" y="191.50" width="2.80" height="2.80" fill="none" stroke="#3a3a3a" stroke-width="0.65"/>
<rect x="488.75" y="191.10" width="2.80" height="2.80" fill="none" stroke="#3a3a3a" stroke-width="0.65"/>
<rect x="492.22" y="190.15" width="2.90" height="2.90" fill="#fff" stroke="#3a3a3a" stroke-width="0.65"/>
<rect x="550.35" y="187.35" width="2.90" height="2.90" fill="#fff" stroke="#3a3a3a" stroke-width="0.65"/>
<rect x="570.78" y="186.85" width="2.90" height="2.90" fill="#fff" stroke="#3a3a3a" stroke-width="0.65"/>
<line x1="607.40" y1="119.20" x2="620.80" y2="119.20" stroke="#444" stroke-width="0.8" />
<rect x="611.80" y="116.60" width="5.20" height="5.20" fill="none" stroke="#444" stroke-width="0.8"/>
<text x="628.60" y="121.60" font-size="9.35" text-anchor="start" fill="#3a3a3a" >0.25 µg/mL</text>
<line x1="607.40" y1="138.55" x2="620.80" y2="138.55" stroke="#444" stroke-width="0.8" />
<polygon points="614.40,135.56 617.26,140.94 611.54,140.94" fill="none" stroke="#444" stroke-width="0.8"/>
<text x="628.60" y="140.95" font-size="9.35" text-anchor="start" fill="#3a3a3a" >0.0625 µg/mL</text>
<line x1="607.40" y1="157.90" x2="620.80" y2="157.90" stroke="#444" stroke-width="0.8" />
<circle cx="614.40" cy="157.90" r="2.80" fill="#fff" stroke="#444" stroke-width="0.8"/>
<text x="628.60" y="160.30" font-size="9.35" text-anchor="start" fill="#3a3a3a" >0 µg/mL</text>
<text x="199.80" y="290.20" font-size="12.5" font-weight="bold" text-anchor="start" fill="#1e1e1e" >i</text>
<line x1="219.50" y1="311.16" x2="219.50" y2="411.90" stroke="#222" stroke-width="1.1" />
<line x1="215.30" y1="311.56" x2="219.50" y2="311.56" stroke="#303030" stroke-width="0.9" />
<text x="213.90" y="314.46" font-size="8" font-weight="bold" text-anchor="end" fill="#1e1e1e" >2</text>
<line x1="215.30" y1="345.00" x2="219.50" y2="345.00" stroke="#303030" stroke-width="0.9" />
<text x="213.90" y="347.90" font-size="8" font-weight="bold" text-anchor="end" fill="#1e1e1e" >0</text>
<line x1="215.30" y1="378.44" x2="219.50" y2="378.44" stroke="#303030" stroke-width="0.9" />
<text x="213.90" y="381.34" font-size="8" font-weight="bold" text-anchor="end" fill="#1e1e1e" >-2</text>
<line x1="215.30" y1="411.88" x2="219.50" y2="411.88" stroke="#303030" stroke-width="0.9" />
<text x="213.90" y="414.78" font-size="8" font-weight="bold" text-anchor="end" fill="#1e1e1e" >-4</text>
<line x1="217.30" y1="328.28" x2="219.50" y2="328.28" stroke="#303030" stroke-width="0.9" />
<line x1="217.30" y1="361.72" x2="219.50" y2="361.72" stroke="#303030" stroke-width="0.9" />
<line x1="217.30" y1="395.16" x2="219.50" y2="395.16" stroke="#303030" stroke-width="0.9" />
<line x1="218.90" y1="411.50" x2="370.50" y2="411.50" stroke="#222" stroke-width="1.3" />
<line x1="243.50" y1="411.50" x2="243.50" y2="415.90" stroke="#303030" stroke-width="1.0" />
<text x="243.50" y="424.10" font-size="7.6" font-weight="bold" text-anchor="middle" fill="#1e1e1e" >0.25 µg/mL</text>
<line x1="294.90" y1="411.50" x2="294.90" y2="415.90" stroke="#303030" stroke-width="1.0" />
<text x="294.90" y="424.10" font-size="7.6" font-weight="bold" text-anchor="middle" fill="#1e1e1e" >0.0625 µg/mL</text>
<line x1="346.30" y1="411.50" x2="346.30" y2="415.90" stroke="#303030" stroke-width="1.0" />
<text x="346.30" y="424.10" font-size="7.6" font-weight="bold" text-anchor="middle" fill="#1e1e1e" >0 µg/mL</text>
<line x1="221.80" y1="345.00" x2="368.5" y2="345.00" stroke="#333" stroke-width="1.3" stroke-dasharray="1.4,1.7"/>
<text x="0" y="0" font-size="7.6" font-weight="bold" text-anchor="middle" fill="#1e1e1e" transform="translate(202.3,360.4) rotate(-90)">Log<tspan font-size="5.4" dy="1.4">10</tspan><tspan dy="-1.4">(foldchange)</tspan></text>
<line x1="227.40" y1="286.90" x2="258.50" y2="286.90" stroke="#3a3a3a" stroke-width="1.4" />
<text x="243.10" y="282.90" font-size="5.75" text-anchor="middle" fill="#555" >&lt;0.0001</text>
<line x1="227.40" y1="298.10" x2="247.40" y2="298.10" stroke="#3a3a3a" stroke-width="1.4" />
<text x="227.30" y="294.30" font-size="5.75" text-anchor="start" fill="#555" >&lt;0.0001</text>
<line x1="227.40" y1="310.30" x2="236.90" y2="310.30" stroke="#3a3a3a" stroke-width="1.4" />
<line x1="249.70" y1="310.30" x2="258.50" y2="310.30" stroke="#3a3a3a" stroke-width="1.4" />
<text x="232.35" y="306.70" font-size="5.75" text-anchor="middle" fill="#555" >0.0063</text>
<text x="254.10" y="306.70" font-size="5.75" text-anchor="middle" fill="#555" >&lt;0.0001</text>
<line x1="277.70" y1="286.90" x2="312.20" y2="286.90" stroke="#3a3a3a" stroke-width="1.4" />
<text x="294.50" y="282.90" font-size="5.75" text-anchor="middle" fill="#555" >&lt;0.0001</text>
<line x1="277.70" y1="298.10" x2="298.10" y2="298.10" stroke="#3a3a3a" stroke-width="1.4" />
<text x="277.60" y="294.30" font-size="5.75" text-anchor="start" fill="#555" >&lt;0.0001</text>
<line x1="277.70" y1="310.30" x2="287.00" y2="310.30" stroke="#3a3a3a" stroke-width="1.4" />
<line x1="302.90" y1="310.30" x2="312.20" y2="310.30" stroke="#3a3a3a" stroke-width="1.4" />
<text x="282.55" y="306.70" font-size="5.75" text-anchor="middle" fill="#555" >&lt;0.0001</text>
<text x="307.55" y="306.70" font-size="5.75" text-anchor="middle" fill="#555" >0.1138</text>
<line x1="330.50" y1="286.90" x2="361.30" y2="286.90" stroke="#3a3a3a" stroke-width="1.4" />
<text x="345.60" y="282.90" font-size="5.75" text-anchor="middle" fill="#555" >&lt;0.0001</text>
<line x1="330.50" y1="298.10" x2="349.20" y2="298.10" stroke="#3a3a3a" stroke-width="1.4" />
<text x="330.40" y="294.30" font-size="5.75" text-anchor="start" fill="#555" >&lt;0.0001</text>
<line x1="330.50" y1="310.30" x2="339.90" y2="310.30" stroke="#3a3a3a" stroke-width="1.4" />
<line x1="351.70" y1="310.30" x2="361.30" y2="310.30" stroke="#3a3a3a" stroke-width="1.4" />
<text x="335.40" y="306.70" font-size="5.75" text-anchor="middle" fill="#555" >0.0247</text>
<text x="356.50" y="306.70" font-size="5.75" text-anchor="middle" fill="#555" >0.7319</text>
<circle cx="225.14" cy="398.53" r="1.20" fill="#1a1a1a"/>
<polygon points="224.71,397.64 226.03,399.20 224.71,400.76 223.39,399.20" fill="#1a1a1a"/>
<circle cx="226.35" cy="399.35" r="1.26" fill="#1a1a1a"/>
<polygon points="225.70,397.86 228.58,397.86 227.14,400.50" fill="#1a1a1a"/>
<circle cx="226.73" cy="399.31" r="1.20" fill="#1a1a1a"/>
<polygon points="224.81,398.07 226.13,399.63 224.81,401.19 223.49,399.63" fill="#1a1a1a"/>
<circle cx="228.93" cy="400.34" r="1.26" fill="#1a1a1a"/>
<polygon points="224.11,399.06 226.99,399.06 225.55,401.70" fill="#1a1a1a"/>
<circle cx="229.61" cy="401.15" r="1.20" fill="#1a1a1a"/>
<polygon points="226.52,399.81 227.84,401.37 226.52,402.93 225.20,401.37" fill="#1a1a1a"/>
<circle cx="224.56" cy="402.13" r="1.26" fill="#1a1a1a"/>
<polygon points="224.48,401.07 227.36,401.07 225.92,403.71" fill="#1a1a1a"/>
<circle cx="224.96" cy="401.70" r="1.20" fill="#1a1a1a"/>
<polygon points="228.87,400.61 230.19,402.17 228.87,403.73 227.55,402.17" fill="#1a1a1a"/>
<circle cx="227.56" cy="402.30" r="1.26" fill="#1a1a1a"/>
<polygon points="224.95,401.93 227.83,401.93 226.39,404.57" fill="#1a1a1a"/>
<circle cx="224.65" cy="403.31" r="1.20" fill="#1a1a1a"/>
<polygon points="225.45,401.44 226.77,403.00 225.45,404.56 224.13,403.00" fill="#1a1a1a"/>
<circle cx="226.69" cy="404.03" r="1.26" fill="#1a1a1a"/>
<polygon points="226.14,402.67 229.02,402.67 227.58,405.31" fill="#1a1a1a"/>
<circle cx="225.98" cy="404.32" r="1.20" fill="#1a1a1a"/>
<polygon points="228.21,403.45 229.53,405.01 228.21,406.57 226.89,405.01" fill="#1a1a1a"/>
<circle cx="238.57" cy="406.44" r="1.20" fill="#1a1a1a"/>
<polygon points="240.29,405.30 241.61,406.86 240.29,408.42 238.97,406.86" fill="#1a1a1a"/>
<circle cx="236.94" cy="407.20" r="1.26" fill="#1a1a1a"/>
<polygon points="234.53,406.39 237.41,406.39 235.97,409.03" fill="#1a1a1a"/>
<circle cx="239.62" cy="407.00" r="1.20" fill="#1a1a1a"/>
<polygon points="238.09,405.21 239.41,406.77 238.09,408.33 236.77,406.77" fill="#1a1a1a"/>
<circle cx="239.11" cy="406.72" r="1.26" fill="#1a1a1a"/>
<polygon points="237.13,406.48 240.01,406.48 238.57,409.12" fill="#1a1a1a"/>
<circle cx="237.09" cy="407.91" r="1.20" fill="#1a1a1a"/>
<circle cx="249.73" cy="342.35" r="1.20" fill="#1a1a1a"/>
<polygon points="248.88,341.27 250.20,342.83 248.88,344.39 247.56,342.83" fill="#1a1a1a"/>
<circle cx="251.86" cy="343.77" r="1.26" fill="#1a1a1a"/>
<polygon points="248.71,342.76 251.59,342.76 250.15,345.40" fill="#1a1a1a"/>
<circle cx="250.38" cy="344.09" r="1.20" fill="#1a1a1a"/>
<polygon points="252.16,343.85 253.48,345.41 252.16,346.97 250.84,345.41" fill="#1a1a1a"/>
<circle cx="247.84" cy="346.25" r="1.26" fill="#1a1a1a"/>
<polygon points="248.74,345.15 251.62,345.15 250.18,347.79" fill="#1a1a1a"/>
<circle cx="248.92" cy="346.54" r="1.20" fill="#1a1a1a"/>
<polygon points="246.81,345.78 248.13,347.34 246.81,348.90 245.49,347.34" fill="#1a1a1a"/>
<circle cx="250.79" cy="347.83" r="1.26" fill="#1a1a1a"/>
<polygon points="246.17,347.34 249.05,347.34 247.61,349.98" fill="#1a1a1a"/>
<circle cx="251.42" cy="349.48" r="1.20" fill="#1a1a1a"/>
<polygon points="248.84,348.17 250.16,349.73 248.84,351.29 247.52,349.73" fill="#1a1a1a"/>
<circle cx="251.49" cy="350.92" r="1.26" fill="#1a1a1a"/>
<polygon points="249.93,350.67 252.81,350.67 251.37,353.31" fill="#1a1a1a"/>
<circle cx="259.30" cy="335.04" r="1.20" fill="#1a1a1a"/>
<polygon points="262.35,333.99 263.67,335.55 262.35,337.11 261.03,335.55" fill="#1a1a1a"/>
<circle cx="257.58" cy="336.67" r="1.26" fill="#1a1a1a"/>
<polygon points="256.67,334.95 259.55,334.95 258.11,337.59" fill="#1a1a1a"/>
<circle cx="259.75" cy="336.63" r="1.20" fill="#1a1a1a"/>
<polygon points="258.31,335.90 259.63,337.46 258.31,339.02 256.99,337.46" fill="#1a1a1a"/>
<circle cx="259.32" cy="337.17" r="1.26" fill="#1a1a1a"/>
<polygon points="258.84,336.82 261.72,336.82 260.28,339.46" fill="#1a1a1a"/>
<circle cx="261.09" cy="339.13" r="1.20" fill="#1a1a1a"/>
<polygon points="260.61,337.45 261.93,339.01 260.61,340.57 259.29,339.01" fill="#1a1a1a"/>
<circle cx="276.19" cy="400.83" r="1.20" fill="#1a1a1a"/>
<polygon points="280.11,399.79 281.43,401.35 280.11,402.91 278.79,401.35" fill="#1a1a1a"/>
<circle cx="280.21" cy="401.56" r="1.26" fill="#1a1a1a"/>
<polygon points="276.61,400.03 279.49,400.03 278.05,402.67" fill="#1a1a1a"/>
<circle cx="279.33" cy="401.13" r="1.20" fill="#1a1a1a"/>
<polygon points="276.26,399.76 277.58,401.32 276.26,402.88 274.94,401.32" fill="#1a1a1a"/>
<circle cx="276.78" cy="401.74" r="1.26" fill="#1a1a1a"/>
<polygon points="274.74,400.95 277.62,400.95 276.18,403.59" fill="#1a1a1a"/>
<circle cx="276.72" cy="401.98" r="1.20" fill="#1a1a1a"/>
<polygon points="277.86,400.79 279.18,402.35 277.86,403.91 276.54,402.35" fill="#1a1a1a"/>
<circle cx="280.62" cy="402.50" r="1.26" fill="#1a1a1a"/>
<polygon points="275.26,402.25 278.14,402.25 276.70,404.89" fill="#1a1a1a"/>
<circle cx="277.78" cy="403.27" r="1.20" fill="#1a1a1a"/>
<polygon points="276.56,402.08 277.88,403.64 276.56,405.20 275.24,403.64" fill="#1a1a1a"/>
<circle cx="281.26" cy="404.47" r="1.26" fill="#1a1a1a"/>
<polygon points="277.07,403.06 279.95,403.06 278.51,405.70" fill="#1a1a1a"/>
<circle cx="276.45" cy="404.05" r="1.20" fill="#1a1a1a"/>
<polygon points="277.33,403.04 278.65,404.60 277.33,406.16 276.01,404.60" fill="#1a1a1a"/>
<circle cx="276.77" cy="405.43" r="1.26" fill="#1a1a1a"/>
<polygon points="279.60,403.51 282.48,403.51 281.04,406.15" fill="#1a1a1a"/>
<circle cx="287.69" cy="385.37" r="1.20" fill="#1a1a1a"/>
<polygon points="287.05,383.89 288.37,385.45 287.05,387.01 285.73,385.45" fill="#1a1a1a"/>
<circle cx="292.18" cy="385.50" r="1.26" fill="#1a1a1a"/>
<polygon points="289.22,384.77 292.10,384.77 290.66,387.41" fill="#1a1a1a"/>
<circle cx="288.88" cy="385.31" r="1.20" fill="#1a1a1a"/>
<polygon points="291.07,383.71 292.39,385.27 291.07,386.83 289.75,385.27" fill="#1a1a1a"/>
<circle cx="291.11" cy="385.77" r="1.26" fill="#1a1a1a"/>
<polygon points="286.66,384.40 289.54,384.40 288.10,387.04" fill="#1a1a1a"/>
<circle cx="292.22" cy="386.24" r="1.20" fill="#1a1a1a"/>
<circle cx="302.33" cy="343.01" r="1.20" fill="#1a1a1a"/>
<polygon points="301.97,341.58 303.29,343.14 301.97,344.70 300.65,343.14" fill="#1a1a1a"/>
<circle cx="300.75" cy="342.60" r="1.26" fill="#1a1a1a"/>
<polygon points="296.62,341.73 299.50,341.73 298.06,344.37" fill="#1a1a1a"/>
<circle cx="299.44" cy="342.70" r="1.20" fill="#1a1a1a"/>
<polygon points="301.71,341.59 303.03,343.15 301.71,344.71 300.39,343.15" fill="#1a1a1a"/>
<circle cx="300.36" cy="344.16" r="1.26" fill="#1a1a1a"/>
<polygon points="301.89,343.11 304.77,343.11 303.33,345.75" fill="#1a1a1a"/>
<circle cx="299.91" cy="344.50" r="1.20" fill="#1a1a1a"/>
<polygon points="299.15,342.23 300.47,343.79 299.15,345.35 297.83,343.79" fill="#1a1a1a"/>
<circle cx="299.02" cy="343.94" r="1.26" fill="#1a1a1a"/>
<polygon points="301.41,343.42 304.29,343.42 302.85,346.06" fill="#1a1a1a"/>
<circle cx="300.54" cy="345.05" r="1.20" fill="#1a1a1a"/>
<polygon points="302.30,343.44 303.62,345.00 302.30,346.56 300.98,345.00" fill="#1a1a1a"/>
<circle cx="312.54" cy="335.71" r="1.20" fill="#1a1a1a"/>
<polygon points="313.17,335.55 314.49,337.11 313.17,338.67 311.85,337.11" fill="#1a1a1a"/>
<circle cx="311.59" cy="337.33" r="1.26" fill="#1a1a1a"/>
<polygon points="311.76,335.85 314.64,335.85 313.20,338.49" fill="#1a1a1a"/>
<circle cx="313.26" cy="337.65" r="1.20" fill="#1a1a1a"/>
<polygon points="311.16,337.27 312.48,338.83 311.16,340.39 309.84,338.83" fill="#1a1a1a"/>
<circle cx="314.02" cy="338.55" r="1.26" fill="#1a1a1a"/>
<polygon points="308.54,338.15 311.42,338.15 309.98,340.79" fill="#1a1a1a"/>
<circle cx="309.89" cy="339.05" r="1.20" fill="#1a1a1a"/>
<circle cx="331.66" cy="319.13" r="1.20" fill="#1a1a1a"/>
<polygon points="331.76,317.16 333.08,318.72 331.76,320.28 330.44,318.72" fill="#1a1a1a"/>
<circle cx="330.85" cy="320.22" r="1.26" fill="#1a1a1a"/>
<polygon points="328.82,318.76 331.70,318.76 330.26,321.40" fill="#1a1a1a"/>
<circle cx="327.38" cy="320.19" r="1.20" fill="#1a1a1a"/>
<polygon points="330.81,320.14 332.13,321.70 330.81,323.26 329.49,321.70" fill="#1a1a1a"/>
<circle cx="332.34" cy="321.66" r="1.26" fill="#1a1a1a"/>
<polygon points="330.57,320.84 333.45,320.84 332.01,323.48" fill="#1a1a1a"/>
<circle cx="328.44" cy="323.01" r="1.20" fill="#1a1a1a"/>
<polygon points="328.88,321.26 330.20,322.82 328.88,324.38 327.56,322.82" fill="#1a1a1a"/>
<circle cx="330.47" cy="323.30" r="1.26" fill="#1a1a1a"/>
<polygon points="328.12,322.62 331.00,322.62 329.56,325.26" fill="#1a1a1a"/>
<circle cx="332.21" cy="324.16" r="1.20" fill="#1a1a1a"/>
<polygon points="329.77,323.37 331.09,324.93 329.77,326.49 328.45,324.93" fill="#1a1a1a"/>
<circle cx="332.18" cy="325.70" r="1.26" fill="#1a1a1a"/>
<polygon points="330.82,324.80 333.70,324.80 332.26,327.44" fill="#1a1a1a"/>
<circle cx="330.17" cy="326.59" r="1.20" fill="#1a1a1a"/>
<polygon points="327.40,325.56 328.72,327.12 327.40,328.68 326.08,327.12" fill="#1a1a1a"/>
<circle cx="328.29" cy="327.51" r="1.26" fill="#1a1a1a"/>
<polygon points="330.18,326.29 333.06,326.29 331.62,328.93" fill="#1a1a1a"/>
<circle cx="329.86" cy="328.18" r="1.20" fill="#1a1a1a"/>
<polygon points="330.30,327.78 331.62,329.34 330.30,330.90 328.98,329.34" fill="#1a1a1a"/>
<circle cx="330.10" cy="329.36" r="1.26" fill="#1a1a1a"/>
<polygon points="330.10,328.93 332.98,328.93 331.54,331.57" fill="#1a1a1a"/>
<circle cx="330.33" cy="330.09" r="1.20" fill="#1a1a1a"/>
<polygon points="328.80,329.20 330.12,330.76 328.80,332.32 327.48,330.76" fill="#1a1a1a"/>
<circle cx="330.04" cy="331.88" r="1.26" fill="#1a1a1a"/>
<polygon points="329.96,330.93 332.84,330.93 331.40,333.57" fill="#1a1a1a"/>
<circle cx="340.54" cy="329.04" r="1.20" fill="#1a1a1a"/>
<polygon points="340.88,327.43 342.20,328.99 340.88,330.55 339.56,328.99" fill="#1a1a1a"/>
<circle cx="341.91" cy="329.16" r="1.26" fill="#1a1a1a"/>
<polygon points="339.59,328.19 342.47,328.19 341.03,330.83" fill="#1a1a1a"/>
<circle cx="343.28" cy="329.72" r="1.20" fill="#1a1a1a"/>
<polygon points="342.92,328.73 344.24,330.29 342.92,331.85 341.60,330.29" fill="#1a1a1a"/>
<circle cx="339.53" cy="330.88" r="1.26" fill="#1a1a1a"/>
<polygon points="341.85,329.52 344.73,329.52 343.29,332.16" fill="#1a1a1a"/>
<circle cx="338.85" cy="331.36" r="1.20" fill="#1a1a1a"/>
<circle cx="351.90" cy="335.81" r="1.20" fill="#1a1a1a"/>
<polygon points="350.85,334.71 352.17,336.27 350.85,337.83 349.53,336.27" fill="#1a1a1a"/>
<circle cx="353.08" cy="336.80" r="1.26" fill="#1a1a1a"/>
<polygon points="352.82,336.98 355.70,336.98 354.26,339.62" fill="#1a1a1a"/>
<circle cx="353.32" cy="337.95" r="1.20" fill="#1a1a1a"/>
<polygon points="350.34,337.52 351.66,339.08 350.34,340.64 349.02,339.08" fill="#1a1a1a"/>
<circle cx="354.63" cy="339.87" r="1.26" fill="#1a1a1a"/>
<polygon points="353.11,338.40 355.99,338.40 354.55,341.04" fill="#1a1a1a"/>
<circle cx="352.13" cy="340.34" r="1.20" fill="#1a1a1a"/>
<polygon points="353.93,340.02 355.25,341.58 353.93,343.14 352.61,341.58" fill="#1a1a1a"/>
<circle cx="351.84" cy="341.11" r="1.26" fill="#1a1a1a"/>
<polygon points="349.92,340.86 352.80,340.86 351.36,343.50" fill="#1a1a1a"/>
<circle cx="351.26" cy="342.20" r="1.20" fill="#1a1a1a"/>
<polygon points="349.70,341.79 351.02,343.35 349.70,344.91 348.38,343.35" fill="#1a1a1a"/>
<circle cx="351.89" cy="343.68" r="1.26" fill="#1a1a1a"/>
<polygon points="349.88,342.36 352.76,342.36 351.32,345.00" fill="#1a1a1a"/>
<circle cx="363.17" cy="341.49" r="1.20" fill="#1a1a1a"/>
<polygon points="365.82,339.33 367.14,340.89 365.82,342.45 364.50,340.89" fill="#1a1a1a"/>
<circle cx="365.74" cy="341.84" r="1.26" fill="#1a1a1a"/>
<polygon points="360.35,339.90 363.23,339.90 361.79,342.54" fill="#1a1a1a"/>
<circle cx="364.66" cy="341.10" r="1.20" fill="#1a1a1a"/>
<polygon points="361.03,339.89 362.35,341.45 361.03,343.01 359.71,341.45" fill="#1a1a1a"/>
<circle cx="365.40" cy="341.71" r="1.26" fill="#1a1a1a"/>
<polygon points="360.31,341.07 363.19,341.07 361.75,343.71" fill="#1a1a1a"/>
<circle cx="365.45" cy="341.54" r="1.20" fill="#1a1a1a"/>
<circle cx="300.40" cy="338.30" r="1.20" fill="#1a1a1a"/>
<circle cx="398.60" cy="318.00" r="1.60" fill="#1a1a1a"/>
<text x="409.80" y="321.00" font-size="8.7" text-anchor="start" fill="#333" >Ye.1</text>
<polygon points="398.60,329.37 400.36,331.45 398.60,333.53 396.84,331.45" fill="#1a1a1a"/>
<text x="409.80" y="334.45" font-size="8.7" text-anchor="start" fill="#333" >Ye.2</text>
<circle cx="398.60" cy="344.90" r="1.68" fill="#1a1a1a"/>
<text x="409.80" y="347.90" font-size="8.7" text-anchor="start" fill="#333" >Ye.3</text>
<polygon points="396.68,356.75 400.52,356.75 398.60,360.27" fill="#1a1a1a"/>
<text x="409.80" y="361.35" font-size="8.7" text-anchor="start" fill="#333" >Ye.4</text>
</svg></body></html>
